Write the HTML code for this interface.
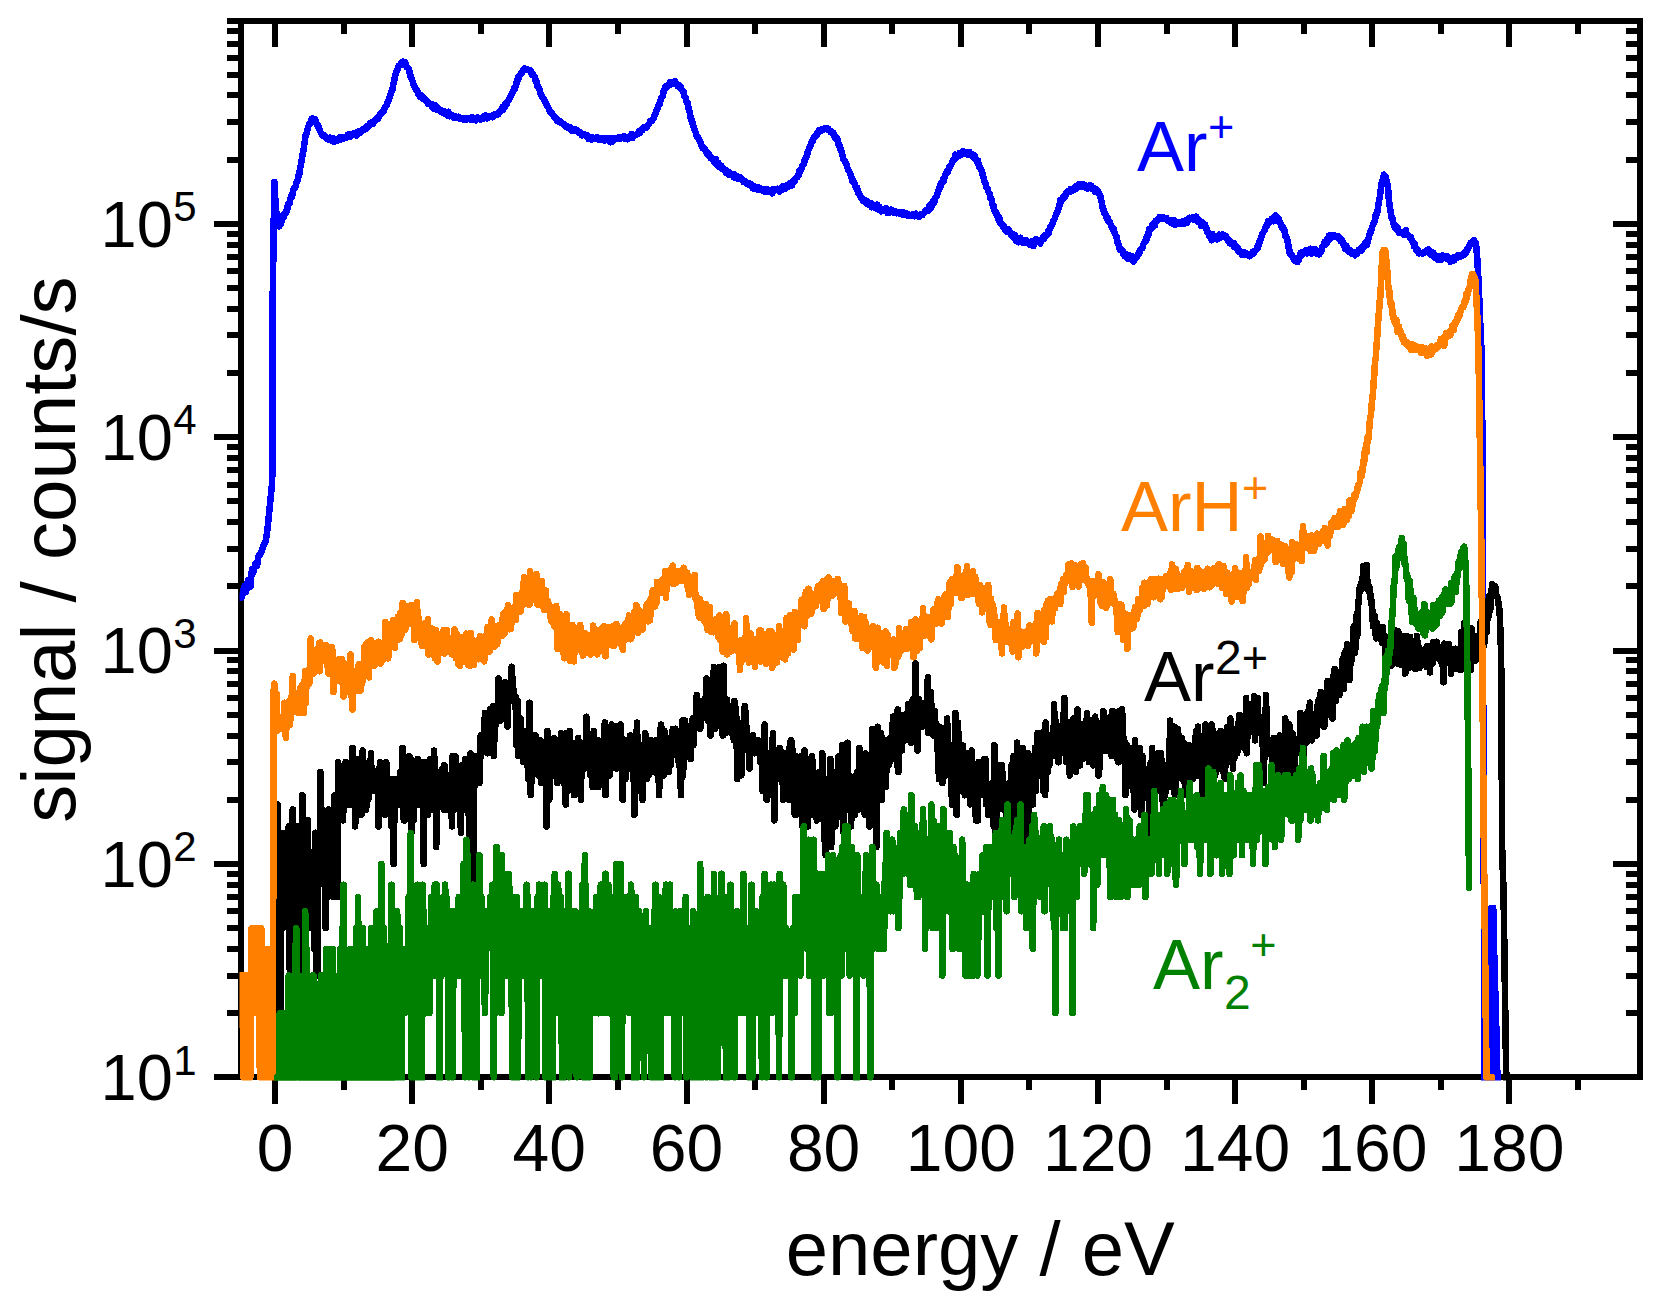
<!DOCTYPE html>
<html lang="en"><head><meta charset="utf-8"><title>Ion energy distributions</title>
<style>
html,body{margin:0;padding:0;background:#fff;}
body{width:1660px;height:1309px;overflow:hidden;}
svg{display:block;}
</style></head><body>
<svg width="1660" height="1309" viewBox="0 0 1660 1309">
<rect width="1660" height="1309" fill="#fff"/>
<path d="M275.0 1077.4V1103.6M275.0 21.0V47.2M343.6 1077.4V1090.4M343.6 21.0V34.0M412.2 1077.4V1103.6M412.2 21.0V47.2M480.7 1077.4V1090.4M480.7 21.0V34.0M549.3 1077.4V1103.6M549.3 21.0V47.2M617.9 1077.4V1090.4M617.9 21.0V34.0M686.5 1077.4V1103.6M686.5 21.0V47.2M755.1 1077.4V1090.4M755.1 21.0V34.0M823.6 1077.4V1103.6M823.6 21.0V47.2M892.2 1077.4V1090.4M892.2 21.0V34.0M960.8 1077.4V1103.6M960.8 21.0V47.2M1029.4 1077.4V1090.4M1029.4 21.0V34.0M1098.0 1077.4V1103.6M1098.0 21.0V47.2M1166.5 1077.4V1090.4M1166.5 21.0V34.0M1235.1 1077.4V1103.6M1235.1 21.0V47.2M1303.7 1077.4V1090.4M1303.7 21.0V34.0M1372.3 1077.4V1103.6M1372.3 21.0V47.2M1440.9 1077.4V1090.4M1440.9 21.0V34.0M1509.4 1077.4V1103.6M1509.4 21.0V47.2M1578.0 1077.4V1090.4M1578.0 21.0V34.0M241.0 1077.4H214.0M1640.2 1077.4H1613.2M241.0 1013.2H227.0M1640.2 1013.2H1626.2M241.0 975.6H227.0M1640.2 975.6H1626.2M241.0 948.9H227.0M1640.2 948.9H1626.2M241.0 928.2H227.0M1640.2 928.2H1626.2M241.0 911.3H227.0M1640.2 911.3H1626.2M241.0 897.1H227.0M1640.2 897.1H1626.2M241.0 884.7H227.0M1640.2 884.7H1626.2M241.0 873.8H227.0M1640.2 873.8H1626.2M241.0 864.0H214.0M1640.2 864.0H1613.2M241.0 799.8H227.0M1640.2 799.8H1626.2M241.0 762.2H227.0M1640.2 762.2H1626.2M241.0 735.5H227.0M1640.2 735.5H1626.2M241.0 714.8H227.0M1640.2 714.8H1626.2M241.0 697.9H227.0M1640.2 697.9H1626.2M241.0 683.7H227.0M1640.2 683.7H1626.2M241.0 671.3H227.0M1640.2 671.3H1626.2M241.0 660.4H227.0M1640.2 660.4H1626.2M241.0 650.6H214.0M1640.2 650.6H1613.2M241.0 586.4H227.0M1640.2 586.4H1626.2M241.0 548.8H227.0M1640.2 548.8H1626.2M241.0 522.1H227.0M1640.2 522.1H1626.2M241.0 501.4H227.0M1640.2 501.4H1626.2M241.0 484.5H227.0M1640.2 484.5H1626.2M241.0 470.3H227.0M1640.2 470.3H1626.2M241.0 457.9H227.0M1640.2 457.9H1626.2M241.0 447.0H227.0M1640.2 447.0H1626.2M241.0 437.2H214.0M1640.2 437.2H1613.2M241.0 373.0H227.0M1640.2 373.0H1626.2M241.0 335.4H227.0M1640.2 335.4H1626.2M241.0 308.7H227.0M1640.2 308.7H1626.2M241.0 288.0H227.0M1640.2 288.0H1626.2M241.0 271.1H227.0M1640.2 271.1H1626.2M241.0 256.9H227.0M1640.2 256.9H1626.2M241.0 244.5H227.0M1640.2 244.5H1626.2M241.0 233.6H227.0M1640.2 233.6H1626.2M241.0 223.8H214.0M1640.2 223.8H1613.2M241.0 159.6H227.0M1640.2 159.6H1626.2M241.0 122.0H227.0M1640.2 122.0H1626.2M241.0 95.3H227.0M1640.2 95.3H1626.2M241.0 74.6H227.0M1640.2 74.6H1626.2M241.0 57.7H227.0M1640.2 57.7H1626.2M241.0 43.5H227.0M1640.2 43.5H1626.2M241.0 31.1H227.0M1640.2 31.1H1626.2M241.0 21.0H227.0M1640.2 21.0H1626.2" stroke="#000" stroke-width="6.0" fill="none" shape-rendering="crispEdges"/>
<rect x="241.0" y="21.0" width="1399.2" height="1056.4" fill="none" stroke="#000" stroke-width="6.0" shape-rendering="crispEdges"/>
<svg x="239.5" y="18" width="1404" height="1062.5" viewBox="239.5 18 1404 1062.5" overflow="hidden">
<g fill="none" stroke-width="6.6" stroke-linejoin="round" stroke-linecap="round" shape-rendering="crispEdges">
<polyline stroke="#0000ff" points="240.7,598.0 242.0,597.0 244.4,586.0 246.0,592.0 248.0,580.0 250.3,587.0 252.0,569.0 253.5,572.0 255.3,564.0 257.0,566.0 258.5,556.0 260.4,554.0 262.0,550.0 263.8,545.0 265.8,541.0 267.5,529.0 268.8,516.0 270.5,499.0 272.2,482.0 272.7,300.0 274.3,182.0 275.6,205.0 277.0,218.0 279.1,226.4 279.8,223.4 280.5,224.5 281.2,222.7 281.9,218.0 282.5,218.4 283.2,215.1 283.9,217.3 284.6,213.9 285.3,212.2 286.0,213.3 286.7,210.5 287.3,209.0 288.0,204.5 288.7,204.4 289.4,204.0 290.1,199.4 290.8,197.3 291.5,195.1 292.1,196.8 292.8,192.8 293.5,188.8 294.2,188.4 294.9,188.5 295.6,186.6 296.3,183.0 296.9,182.0 297.6,180.0 298.3,177.6 299.0,172.7 299.7,173.0 300.4,166.7 301.1,163.9 301.7,160.2 302.4,155.9 303.1,152.0 303.8,148.3 304.5,142.8 305.2,138.2 305.9,134.3 306.5,133.3 307.2,130.8 307.9,127.7 308.6,125.7 309.3,123.9 310.0,124.4 310.7,121.4 311.3,119.3 312.0,119.7 312.7,118.7 313.4,120.2 314.1,119.1 314.8,119.2 315.5,120.5 316.1,123.3 316.8,123.5 317.5,125.7 318.2,125.0 318.9,128.3 319.6,129.2 320.3,131.6 320.9,132.9 321.6,133.9 322.3,135.4 323.0,134.8 323.7,135.1 324.4,135.5 325.1,137.0 325.7,137.6 326.4,137.5 327.1,138.8 327.8,139.3 328.5,139.0 329.2,139.0 329.9,137.8 330.5,140.1 331.2,140.3 331.9,140.2 332.6,139.7 333.3,138.1 334.0,141.7 334.7,140.8 335.4,140.6 336.0,138.9 336.7,139.3 337.4,140.1 338.1,140.4 338.8,138.7 339.5,137.3 340.2,137.4 340.8,139.4 341.5,137.9 342.2,138.3 342.9,138.8 343.6,137.3 344.3,136.9 345.0,137.3 345.6,137.2 346.3,136.7 347.0,137.4 347.7,134.6 348.4,136.7 349.1,136.5 349.8,136.0 350.4,136.5 351.1,134.1 351.8,135.6 352.5,133.9 353.2,133.9 353.9,133.4 354.6,134.9 355.2,134.0 355.9,133.1 356.6,135.6 357.3,132.1 358.0,132.5 358.7,131.3 359.4,131.1 360.0,132.7 360.7,131.9 361.4,131.3 362.1,130.4 362.8,129.5 363.5,130.1 364.2,129.9 364.8,128.2 365.5,128.3 366.2,127.1 366.9,128.4 367.6,126.1 368.3,126.3 369.0,126.3 369.6,124.0 370.3,124.8 371.0,122.6 371.7,123.4 372.4,122.4 373.1,123.7 373.8,122.5 374.4,121.6 375.1,119.9 375.8,119.4 376.5,118.9 377.2,118.1 377.9,118.9 378.6,117.8 379.2,116.1 379.9,114.9 380.6,113.4 381.3,114.0 382.0,112.0 382.7,112.6 383.4,110.3 384.0,110.5 384.7,107.7 385.4,107.1 386.1,106.0 386.8,105.3 387.5,102.3 388.2,101.7 388.8,99.1 389.5,98.1 390.2,95.4 390.9,93.8 391.6,91.4 392.3,90.3 393.0,85.6 393.6,82.8 394.3,80.1 395.0,76.8 395.7,74.2 396.4,71.8 397.1,70.1 397.8,68.8 398.4,66.1 399.1,65.5 399.8,65.1 400.5,64.1 401.2,62.9 401.9,64.5 402.6,61.6 403.2,61.7 403.9,63.4 404.6,62.0 405.3,63.1 406.0,64.5 406.7,67.4 407.4,67.6 408.0,67.9 408.7,69.2 409.4,71.5 410.1,74.2 410.8,77.8 411.5,78.4 412.2,80.5 412.8,81.6 413.5,84.2 414.2,85.7 414.9,87.2 415.6,88.2 416.3,90.2 417.0,90.1 417.6,92.1 418.3,94.3 419.0,95.3 419.7,94.5 420.4,97.2 421.1,96.3 421.8,95.7 422.4,98.8 423.1,99.1 423.8,99.2 424.5,98.5 425.2,99.4 425.9,100.3 426.6,101.7 427.2,102.1 427.9,103.6 428.6,102.4 429.3,103.5 430.0,104.1 430.7,104.4 431.4,105.4 432.0,106.9 432.7,104.4 433.4,105.8 434.1,108.6 434.8,107.0 435.5,105.5 436.2,108.1 436.8,108.9 437.5,110.0 438.2,110.1 438.9,108.6 439.6,110.2 440.3,111.3 441.0,110.4 441.6,110.7 442.3,111.7 443.0,113.0 443.7,112.4 444.4,111.0 445.1,114.2 445.8,113.5 446.4,112.3 447.1,112.0 447.8,115.5 448.5,111.8 449.2,114.1 449.9,116.2 450.6,114.2 451.3,115.5 451.9,114.9 452.6,116.0 453.3,117.5 454.0,117.0 454.7,116.4 455.4,116.4 456.1,116.5 456.7,118.0 457.4,117.8 458.1,118.1 458.8,116.9 459.5,118.5 460.2,118.2 460.9,117.9 461.5,118.3 462.2,118.1 462.9,119.4 463.6,119.5 464.3,118.5 465.0,119.7 465.7,118.8 466.3,119.4 467.0,118.7 467.7,118.7 468.4,118.7 469.1,119.1 469.8,119.3 470.5,118.7 471.1,117.6 471.8,119.7 472.5,117.6 473.2,119.3 473.9,119.9 474.6,119.1 475.3,119.0 475.9,120.3 476.6,119.6 477.3,117.5 478.0,118.5 478.7,118.6 479.4,118.9 480.1,119.3 480.7,119.6 481.4,119.4 482.1,117.7 482.8,118.4 483.5,116.7 484.2,118.3 484.9,117.9 485.5,115.4 486.2,118.1 486.9,118.4 487.6,117.5 488.3,117.7 489.0,116.0 489.7,116.6 490.3,116.3 491.0,117.1 491.7,116.7 492.4,117.2 493.1,115.5 493.8,116.1 494.5,115.0 495.1,114.1 495.8,114.1 496.5,113.8 497.2,113.5 497.9,114.5 498.6,112.7 499.3,112.1 499.9,111.2 500.6,110.8 501.3,110.7 502.0,110.4 502.7,106.9 503.4,109.2 504.1,107.8 504.7,104.5 505.4,106.1 506.1,103.7 506.8,104.5 507.5,101.5 508.2,100.8 508.9,99.4 509.5,98.2 510.2,96.5 510.9,96.3 511.6,94.2 512.3,93.3 513.0,91.1 513.7,90.0 514.3,87.7 515.0,88.6 515.7,85.6 516.4,82.4 517.1,82.5 517.8,77.8 518.5,78.9 519.1,76.4 519.8,75.3 520.5,74.3 521.2,72.9 521.9,72.7 522.6,71.8 523.3,69.4 523.9,69.7 524.6,68.2 525.3,70.1 526.0,69.5 526.7,69.0 527.4,69.1 528.1,70.0 528.7,70.2 529.4,70.4 530.1,70.3 530.8,70.6 531.5,73.6 532.2,74.9 532.9,74.0 533.5,75.5 534.2,76.1 534.9,77.7 535.6,80.6 536.3,80.7 537.0,84.3 537.7,86.8 538.3,86.5 539.0,88.5 539.7,89.7 540.4,93.6 541.1,94.2 541.8,96.7 542.5,97.5 543.1,97.9 543.8,99.3 544.5,100.2 545.2,102.1 545.9,104.1 546.6,104.1 547.3,106.3 547.9,106.9 548.6,108.2 549.3,110.0 550.0,112.2 550.7,112.1 551.4,112.9 552.1,113.7 552.7,114.3 553.4,115.7 554.1,116.8 554.8,116.8 555.5,117.6 556.2,119.7 556.9,119.3 557.5,120.8 558.2,120.0 558.9,122.0 559.6,121.2 560.3,121.1 561.0,122.9 561.7,123.3 562.4,123.1 563.0,123.7 563.7,124.0 564.4,125.1 565.1,125.5 565.8,126.4 566.5,127.1 567.2,127.5 567.8,126.4 568.5,127.1 569.2,128.1 569.9,127.0 570.6,129.7 571.3,128.8 572.0,131.1 572.6,130.3 573.3,130.3 574.0,129.8 574.7,129.1 575.4,130.9 576.1,130.7 576.8,130.8 577.4,130.5 578.1,131.5 578.8,132.4 579.5,132.9 580.2,132.3 580.9,132.7 581.6,135.1 582.2,135.3 582.9,133.9 583.6,134.8 584.3,134.5 585.0,134.5 585.7,135.1 586.4,134.9 587.0,136.8 587.7,135.7 588.4,138.7 589.1,137.4 589.8,137.6 590.5,138.8 591.2,138.3 591.8,139.5 592.5,137.5 593.2,138.7 593.9,138.6 594.6,138.3 595.3,139.0 596.0,138.0 596.6,138.0 597.3,137.1 598.0,138.3 598.7,139.3 599.4,139.8 600.1,139.0 600.8,139.6 601.4,138.5 602.1,139.3 602.8,139.1 603.5,138.8 604.2,138.9 604.9,140.6 605.6,139.4 606.2,138.1 606.9,138.2 607.6,138.8 608.3,139.9 609.0,138.6 609.7,138.3 610.4,142.3 611.0,141.2 611.7,139.5 612.4,141.9 613.1,138.0 613.8,138.6 614.5,139.3 615.2,138.4 615.8,139.1 616.5,138.0 617.2,138.6 617.9,138.0 618.6,138.8 619.3,137.1 620.0,137.4 620.6,138.8 621.3,137.1 622.0,137.4 622.7,137.5 623.4,136.7 624.1,136.4 624.8,138.5 625.4,138.2 626.1,138.5 626.8,137.2 627.5,139.3 628.2,137.4 628.9,137.8 629.6,136.5 630.2,135.8 630.9,135.7 631.6,134.0 632.3,138.2 633.0,137.2 633.7,136.0 634.4,135.6 635.0,135.1 635.7,135.0 636.4,134.3 637.1,134.2 637.8,133.1 638.5,133.8 639.2,131.0 639.8,132.8 640.5,130.8 641.2,129.5 641.9,129.2 642.6,130.0 643.3,128.0 644.0,127.3 644.6,127.3 645.3,127.9 646.0,127.9 646.7,126.3 647.4,126.3 648.1,124.8 648.8,123.9 649.4,123.3 650.1,121.3 650.8,120.7 651.5,120.5 652.2,120.8 652.9,119.2 653.6,118.5 654.2,116.1 654.9,114.2 655.6,113.1 656.3,110.6 657.0,110.0 657.7,107.9 658.4,106.3 659.0,104.4 659.7,103.8 660.4,100.6 661.1,98.4 661.8,97.2 662.5,96.4 663.2,94.0 663.8,90.8 664.5,89.5 665.2,86.7 665.9,87.8 666.6,86.5 667.3,87.0 668.0,85.2 668.6,84.3 669.3,83.5 670.0,82.4 670.7,82.1 671.4,84.2 672.1,82.7 672.8,82.3 673.4,82.8 674.1,82.0 674.8,81.3 675.5,83.9 676.2,82.9 676.9,83.7 677.6,85.9 678.3,84.9 678.9,84.8 679.6,86.9 680.3,86.2 681.0,89.2 681.7,89.6 682.4,90.3 683.1,92.5 683.7,92.1 684.4,96.0 685.1,97.4 685.8,98.4 686.5,101.7 687.2,102.9 687.9,103.2 688.5,109.0 689.2,110.6 689.9,112.9 690.6,117.9 691.3,118.6 692.0,122.5 692.7,123.0 693.3,125.9 694.0,128.0 694.7,129.7 695.4,131.7 696.1,133.5 696.8,137.0 697.5,137.8 698.1,137.6 698.8,139.4 699.5,140.3 700.2,142.4 700.9,143.2 701.6,146.5 702.3,146.8 702.9,148.4 703.6,147.7 704.3,148.0 705.0,150.1 705.7,150.8 706.4,152.6 707.1,152.3 707.7,154.9 708.4,155.8 709.1,154.1 709.8,155.5 710.5,158.0 711.2,157.3 711.9,158.3 712.5,159.1 713.2,159.6 713.9,162.0 714.6,162.6 715.3,161.9 716.0,159.1 716.7,165.0 717.3,165.6 718.0,162.5 718.7,165.7 719.4,164.5 720.1,167.7 720.8,167.8 721.5,166.1 722.1,167.0 722.8,169.4 723.5,169.4 724.2,169.2 724.9,170.7 725.6,170.7 726.3,173.0 726.9,170.5 727.6,171.9 728.3,172.9 729.0,174.5 729.7,172.4 730.4,173.9 731.1,173.7 731.7,174.1 732.4,174.2 733.1,175.3 733.8,177.4 734.5,174.5 735.2,175.9 735.9,177.5 736.5,175.8 737.2,177.6 737.9,178.6 738.6,177.8 739.3,178.0 740.0,179.0 740.7,177.4 741.3,178.6 742.0,180.0 742.7,179.9 743.4,182.1 744.1,182.1 744.8,181.3 745.5,181.6 746.1,183.0 746.8,183.8 747.5,184.3 748.2,184.3 748.9,183.3 749.6,184.9 750.3,185.4 750.9,185.2 751.6,184.6 752.3,186.0 753.0,188.4 753.7,187.2 754.4,186.4 755.1,187.0 755.7,187.5 756.4,189.0 757.1,188.6 757.8,189.5 758.5,187.2 759.2,188.4 759.9,189.6 760.5,188.7 761.2,188.7 761.9,190.0 762.6,190.0 763.3,190.8 764.0,191.0 764.7,191.5 765.3,189.0 766.0,191.8 766.7,191.4 767.4,189.2 768.1,189.7 768.8,189.7 769.5,190.4 770.1,191.7 770.8,190.2 771.5,190.1 772.2,193.5 772.9,191.3 773.6,189.0 774.3,190.9 774.9,190.6 775.6,189.8 776.3,190.1 777.0,189.8 777.7,188.9 778.4,189.5 779.1,190.4 779.7,191.4 780.4,189.7 781.1,189.6 781.8,188.2 782.5,186.7 783.2,187.4 783.9,189.1 784.5,186.0 785.2,188.9 785.9,188.4 786.6,186.6 787.3,187.3 788.0,184.5 788.7,186.1 789.3,183.4 790.0,183.7 790.7,184.2 791.4,184.7 792.1,185.3 792.8,181.3 793.5,182.2 794.2,181.4 794.8,180.8 795.5,178.8 796.2,177.8 796.9,177.6 797.6,176.6 798.3,174.8 799.0,174.6 799.6,170.5 800.3,171.6 801.0,169.3 801.7,168.1 802.4,166.0 803.1,164.8 803.8,163.9 804.4,160.4 805.1,160.4 805.8,157.2 806.5,157.3 807.2,154.3 807.9,151.3 808.6,149.8 809.2,148.1 809.9,146.8 810.6,145.2 811.3,142.1 812.0,142.3 812.7,141.3 813.4,138.8 814.0,137.2 814.7,137.0 815.4,135.9 816.1,135.5 816.8,135.3 817.5,132.5 818.2,132.0 818.8,130.6 819.5,131.6 820.2,131.0 820.9,129.7 821.6,130.5 822.3,130.4 823.0,129.5 823.6,128.7 824.3,128.6 825.0,128.1 825.7,128.2 826.4,129.0 827.1,128.7 827.8,129.6 828.4,128.8 829.1,130.5 829.8,130.7 830.5,132.0 831.2,131.4 831.9,133.0 832.6,132.4 833.2,132.7 833.9,134.5 834.6,137.0 835.3,136.8 836.0,137.6 836.7,139.7 837.4,139.0 838.0,143.0 838.7,145.5 839.4,145.0 840.1,148.6 840.8,148.9 841.5,151.8 842.2,154.0 842.8,156.8 843.5,159.2 844.2,159.9 844.9,160.8 845.6,163.4 846.3,163.8 847.0,166.9 847.6,168.1 848.3,170.6 849.0,170.6 849.7,172.6 850.4,174.3 851.1,176.8 851.8,177.8 852.4,181.5 853.1,179.9 853.8,182.6 854.5,183.6 855.2,185.2 855.9,187.4 856.6,187.8 857.2,187.8 857.9,192.9 858.6,193.1 859.3,194.0 860.0,196.2 860.7,197.3 861.4,197.6 862.0,198.9 862.7,199.5 863.4,201.0 864.1,199.6 864.8,199.9 865.5,202.7 866.2,203.5 866.8,202.5 867.5,201.4 868.2,203.4 868.9,204.4 869.6,203.7 870.3,204.7 871.0,203.0 871.6,207.3 872.3,205.8 873.0,204.7 873.7,205.8 874.4,206.0 875.1,207.6 875.8,205.9 876.4,206.3 877.1,204.7 877.8,209.6 878.5,209.7 879.2,206.6 879.9,210.5 880.6,208.9 881.2,211.3 881.9,209.8 882.6,209.0 883.3,210.5 884.0,210.1 884.7,210.6 885.4,211.2 886.0,208.3 886.7,210.5 887.4,212.8 888.1,210.7 888.8,212.8 889.5,211.9 890.2,210.2 890.8,209.8 891.5,211.6 892.2,210.1 892.9,210.6 893.6,212.5 894.3,211.6 895.0,211.8 895.6,211.6 896.3,213.2 897.0,212.6 897.7,212.5 898.4,213.3 899.1,213.6 899.8,212.8 900.4,212.3 901.1,213.5 901.8,212.6 902.5,214.5 903.2,212.2 903.9,215.0 904.6,213.7 905.3,213.6 905.9,213.1 906.6,214.8 907.3,214.7 908.0,216.0 908.7,214.9 909.4,214.7 910.1,214.9 910.7,215.2 911.4,215.7 912.1,215.4 912.8,214.0 913.5,215.8 914.2,216.1 914.9,214.5 915.5,214.3 916.2,213.8 916.9,215.6 917.6,216.4 918.3,216.4 919.0,215.8 919.7,216.6 920.3,214.8 921.0,214.3 921.7,215.1 922.4,215.1 923.1,213.9 923.8,213.5 924.5,212.7 925.1,211.0 925.8,210.7 926.5,210.1 927.2,210.9 927.9,210.1 928.6,210.4 929.3,205.7 929.9,207.4 930.6,208.5 931.3,204.8 932.0,205.9 932.7,202.0 933.4,202.3 934.1,203.0 934.7,199.2 935.4,198.0 936.1,196.8 936.8,196.6 937.5,193.3 938.2,191.8 938.9,189.4 939.5,187.5 940.2,187.4 940.9,183.1 941.6,182.1 942.3,182.7 943.0,179.2 943.7,181.4 944.3,178.0 945.0,175.2 945.7,174.4 946.4,172.4 947.1,171.1 947.8,172.2 948.5,169.3 949.1,166.7 949.8,167.2 950.5,165.7 951.2,165.0 951.9,162.7 952.6,161.8 953.3,160.1 953.9,160.2 954.6,158.1 955.3,154.6 956.0,157.1 956.7,157.6 957.4,155.9 958.1,156.1 958.7,156.2 959.4,153.2 960.1,154.9 960.8,154.8 961.5,152.8 962.2,152.6 962.9,151.1 963.5,153.8 964.2,153.9 964.9,153.5 965.6,152.9 966.3,151.9 967.0,151.9 967.7,154.2 968.3,154.8 969.0,152.5 969.7,152.3 970.4,155.1 971.1,154.3 971.8,154.3 972.5,156.6 973.1,157.4 973.8,155.3 974.5,155.8 975.2,157.7 975.9,159.0 976.6,160.5 977.3,162.9 977.9,160.3 978.6,165.3 979.3,167.5 980.0,166.8 980.7,169.2 981.4,170.6 982.1,171.6 982.7,175.0 983.4,177.5 984.1,180.0 984.8,182.1 985.5,183.1 986.2,187.3 986.9,187.4 987.5,188.6 988.2,191.4 988.9,192.7 989.6,193.8 990.3,198.3 991.0,198.4 991.7,200.1 992.3,203.6 993.0,207.1 993.7,206.1 994.4,210.9 995.1,211.5 995.8,212.0 996.5,215.3 997.1,214.2 997.8,217.9 998.5,219.8 999.2,217.7 999.9,222.8 1000.6,223.4 1001.3,223.4 1001.9,224.8 1002.6,226.1 1003.3,225.0 1004.0,227.4 1004.7,228.0 1005.4,230.1 1006.1,231.3 1006.7,229.6 1007.4,229.8 1008.1,229.3 1008.8,230.1 1009.5,231.0 1010.2,233.0 1010.9,232.7 1011.5,235.4 1012.2,236.5 1012.9,234.0 1013.6,235.8 1014.3,235.5 1015.0,235.2 1015.7,240.5 1016.3,240.0 1017.0,239.0 1017.7,240.0 1018.4,242.2 1019.1,240.4 1019.8,241.6 1020.5,237.8 1021.2,239.9 1021.8,239.4 1022.5,239.8 1023.2,243.0 1023.9,240.6 1024.6,242.3 1025.3,241.4 1026.0,242.1 1026.6,240.3 1027.3,243.0 1028.0,242.4 1028.7,243.4 1029.4,243.2 1030.1,244.9 1030.8,243.0 1031.4,241.7 1032.1,244.5 1032.8,244.3 1033.5,246.1 1034.2,240.4 1034.9,240.1 1035.6,242.1 1036.2,238.9 1036.9,239.9 1037.6,241.5 1038.3,242.0 1039.0,241.8 1039.7,240.0 1040.4,243.6 1041.0,240.0 1041.7,240.3 1042.4,240.0 1043.1,237.1 1043.8,239.1 1044.5,235.9 1045.2,235.0 1045.8,236.4 1046.5,235.4 1047.2,234.6 1047.9,231.7 1048.6,233.5 1049.3,229.7 1050.0,228.0 1050.6,226.6 1051.3,226.6 1052.0,223.9 1052.7,223.3 1053.4,221.0 1054.1,220.0 1054.8,218.4 1055.4,216.2 1056.1,214.8 1056.8,213.0 1057.5,211.6 1058.2,209.2 1058.9,207.1 1059.6,205.3 1060.2,199.8 1060.9,202.4 1061.6,200.2 1062.3,200.0 1063.0,197.0 1063.7,196.5 1064.4,195.3 1065.0,196.7 1065.7,194.6 1066.4,192.5 1067.1,192.4 1067.8,192.6 1068.5,191.1 1069.2,192.1 1069.8,192.2 1070.5,189.2 1071.2,191.1 1071.9,190.2 1072.6,190.5 1073.3,188.9 1074.0,189.7 1074.6,187.5 1075.3,186.4 1076.0,188.9 1076.7,188.6 1077.4,186.8 1078.1,184.9 1078.8,184.2 1079.4,184.3 1080.1,185.2 1080.8,187.1 1081.5,185.2 1082.2,184.4 1082.9,186.6 1083.6,186.6 1084.2,184.6 1084.9,184.9 1085.6,187.4 1086.3,188.2 1087.0,186.8 1087.7,188.6 1088.4,186.9 1089.0,186.7 1089.7,185.7 1090.4,186.7 1091.1,185.5 1091.8,187.0 1092.5,188.8 1093.2,187.8 1093.8,189.4 1094.5,189.3 1095.2,191.8 1095.9,189.2 1096.6,189.8 1097.3,192.2 1098.0,192.4 1098.6,192.1 1099.3,193.8 1100.0,196.8 1100.7,196.5 1101.4,201.3 1102.1,204.3 1102.8,208.3 1103.4,209.0 1104.1,213.2 1104.8,213.0 1105.5,214.7 1106.2,215.5 1106.9,219.0 1107.6,217.9 1108.2,220.8 1108.9,221.2 1109.6,222.0 1110.3,223.5 1111.0,225.2 1111.7,226.8 1112.4,228.9 1113.0,228.7 1113.7,229.0 1114.4,232.8 1115.1,234.2 1115.8,235.7 1116.5,236.7 1117.2,240.6 1117.8,243.8 1118.5,244.5 1119.2,247.7 1119.9,249.6 1120.6,249.2 1121.3,249.9 1122.0,249.6 1122.6,250.5 1123.3,254.2 1124.0,254.1 1124.7,256.2 1125.4,253.9 1126.1,256.6 1126.8,257.2 1127.4,258.4 1128.1,255.6 1128.8,258.4 1129.5,255.2 1130.2,257.8 1130.9,257.2 1131.6,258.9 1132.2,257.7 1132.9,256.5 1133.6,261.5 1134.3,259.9 1135.0,257.9 1135.7,258.4 1136.4,257.7 1137.1,256.6 1137.7,254.4 1138.4,253.3 1139.1,253.9 1139.8,250.2 1140.5,249.5 1141.2,248.8 1141.9,248.4 1142.5,247.9 1143.2,244.5 1143.9,243.3 1144.6,242.3 1145.3,241.1 1146.0,238.6 1146.7,239.8 1147.3,237.2 1148.0,233.6 1148.7,234.4 1149.4,228.9 1150.1,230.1 1150.8,228.4 1151.5,228.4 1152.1,225.1 1152.8,224.4 1153.5,226.0 1154.2,222.4 1154.9,225.6 1155.6,221.0 1156.3,220.4 1156.9,220.4 1157.6,220.6 1158.3,219.5 1159.0,218.9 1159.7,216.9 1160.4,217.3 1161.1,219.0 1161.7,217.9 1162.4,218.5 1163.1,217.3 1163.8,218.7 1164.5,218.8 1165.2,218.5 1165.9,218.0 1166.5,218.1 1167.2,219.6 1167.9,221.0 1168.6,221.2 1169.3,221.6 1170.0,219.9 1170.7,220.5 1171.3,223.2 1172.0,221.7 1172.7,221.9 1173.4,224.0 1174.1,220.1 1174.8,224.8 1175.5,221.3 1176.1,222.7 1176.8,222.0 1177.5,223.9 1178.2,223.6 1178.9,222.6 1179.6,222.4 1180.3,224.1 1180.9,223.0 1181.6,222.4 1182.3,221.6 1183.0,222.6 1183.7,222.2 1184.4,223.7 1185.1,221.1 1185.7,220.6 1186.4,219.8 1187.1,222.8 1187.8,219.7 1188.5,218.3 1189.2,217.9 1189.9,219.6 1190.5,218.1 1191.2,219.1 1191.9,217.8 1192.6,217.5 1193.3,217.7 1194.0,220.1 1194.7,218.2 1195.3,218.4 1196.0,216.6 1196.7,219.5 1197.4,221.1 1198.1,222.0 1198.8,219.4 1199.5,220.4 1200.1,223.0 1200.8,221.3 1201.5,226.1 1202.2,223.8 1202.9,223.5 1203.6,225.4 1204.3,225.2 1204.9,224.4 1205.6,228.1 1206.3,228.1 1207.0,232.0 1207.7,231.4 1208.4,233.7 1209.1,235.8 1209.7,234.0 1210.4,236.4 1211.1,235.9 1211.8,240.3 1212.5,233.9 1213.2,239.2 1213.9,238.0 1214.5,238.0 1215.2,237.7 1215.9,238.9 1216.6,237.2 1217.3,239.3 1218.0,238.5 1218.7,237.9 1219.3,234.6 1220.0,236.1 1220.7,237.5 1221.4,236.3 1222.1,236.2 1222.8,234.3 1223.5,236.5 1224.1,234.9 1224.8,236.1 1225.5,237.0 1226.2,236.5 1226.9,238.7 1227.6,238.8 1228.3,241.1 1228.9,239.8 1229.6,243.4 1230.3,242.0 1231.0,242.1 1231.7,244.2 1232.4,243.2 1233.1,245.0 1233.7,242.9 1234.4,247.0 1235.1,246.7 1235.8,246.4 1236.5,248.3 1237.2,248.3 1237.9,247.5 1238.5,251.6 1239.2,251.3 1239.9,251.8 1240.6,252.1 1241.3,251.8 1242.0,254.7 1242.7,253.3 1243.3,254.5 1244.0,252.0 1244.7,253.7 1245.4,253.7 1246.1,253.3 1246.8,255.1 1247.5,254.5 1248.2,255.4 1248.8,254.8 1249.5,256.2 1250.2,255.7 1250.9,254.9 1251.6,253.7 1252.3,252.4 1253.0,253.3 1253.6,253.7 1254.3,251.0 1255.0,250.8 1255.7,250.1 1256.4,249.4 1257.1,246.9 1257.8,248.6 1258.4,245.4 1259.1,241.6 1259.8,242.0 1260.5,239.8 1261.2,236.8 1261.9,236.0 1262.6,233.3 1263.2,232.6 1263.9,231.1 1264.6,230.7 1265.3,227.9 1266.0,226.2 1266.7,226.1 1267.4,225.1 1268.0,221.2 1268.7,222.0 1269.4,222.1 1270.1,221.8 1270.8,221.3 1271.5,219.2 1272.2,219.2 1272.8,218.6 1273.5,221.2 1274.2,219.6 1274.9,219.5 1275.6,215.6 1276.3,218.3 1277.0,220.0 1277.6,221.0 1278.3,218.3 1279.0,220.1 1279.7,221.6 1280.4,222.7 1281.1,226.0 1281.8,226.4 1282.4,228.5 1283.1,227.4 1283.8,228.5 1284.5,230.6 1285.2,235.9 1285.9,236.1 1286.6,237.4 1287.2,239.8 1287.9,242.5 1288.6,247.2 1289.3,252.0 1290.0,251.3 1290.7,254.8 1291.4,254.6 1292.0,256.2 1292.7,256.9 1293.4,258.3 1294.1,260.5 1294.8,259.7 1295.5,258.1 1296.2,258.9 1296.8,260.0 1297.5,262.1 1298.2,258.8 1298.9,259.8 1299.6,256.7 1300.3,253.3 1301.0,255.8 1301.6,254.5 1302.3,252.3 1303.0,253.8 1303.7,253.5 1304.4,252.9 1305.1,251.6 1305.8,250.3 1306.4,250.8 1307.1,253.3 1307.8,251.2 1308.5,250.9 1309.2,250.0 1309.9,250.0 1310.6,248.9 1311.2,253.0 1311.9,253.6 1312.6,251.1 1313.3,252.7 1314.0,251.2 1314.7,249.0 1315.4,250.3 1316.0,252.7 1316.7,253.8 1317.4,252.2 1318.1,251.8 1318.8,254.3 1319.5,254.0 1320.2,252.6 1320.8,251.2 1321.5,251.0 1322.2,247.2 1322.9,246.3 1323.6,245.2 1324.3,242.3 1325.0,243.6 1325.6,244.5 1326.3,244.1 1327.0,238.9 1327.7,239.7 1328.4,239.8 1329.1,235.6 1329.8,239.4 1330.4,238.1 1331.1,235.4 1331.8,236.3 1332.5,235.1 1333.2,235.8 1333.9,235.3 1334.6,236.7 1335.2,236.9 1335.9,235.9 1336.6,237.1 1337.3,237.7 1338.0,237.8 1338.7,236.5 1339.4,238.3 1340.0,238.5 1340.7,241.5 1341.4,241.4 1342.1,239.9 1342.8,242.4 1343.5,244.6 1344.2,244.8 1344.8,247.4 1345.5,249.2 1346.2,245.5 1346.9,249.1 1347.6,248.0 1348.3,251.4 1349.0,250.0 1349.6,251.0 1350.3,250.4 1351.0,253.3 1351.7,253.4 1352.4,252.7 1353.1,253.8 1353.8,253.1 1354.4,254.4 1355.1,255.3 1355.8,252.2 1356.5,252.5 1357.2,253.8 1357.9,251.8 1358.6,250.0 1359.2,250.1 1359.9,249.0 1360.6,249.4 1361.3,250.8 1362.0,247.4 1362.7,248.3 1363.4,246.0 1364.1,247.2 1364.7,244.1 1365.4,244.7 1366.1,242.1 1366.8,245.0 1367.5,242.0 1368.2,238.7 1368.9,237.4 1369.5,234.4 1370.2,233.8 1370.9,230.0 1371.6,229.9 1372.3,226.3 1373.0,225.3 1373.7,223.2 1374.3,221.8 1375.0,220.3 1375.7,214.5 1376.4,215.0 1377.1,213.0 1377.8,209.8 1378.5,203.9 1379.1,200.2 1379.8,198.0 1380.5,191.4 1381.2,186.9 1381.9,181.1 1382.6,180.3 1383.3,177.8 1383.9,174.7 1384.6,177.2 1385.3,176.1 1386.0,180.4 1386.7,180.2 1387.4,184.1 1388.1,187.8 1388.7,197.6 1389.4,203.9 1390.1,208.0 1390.8,213.1 1391.5,217.6 1392.2,217.7 1392.9,221.4 1393.5,223.3 1394.2,225.6 1394.9,228.0 1395.6,226.1 1396.3,228.8 1397.0,226.7 1397.7,228.1 1398.3,230.9 1399.0,232.6 1399.7,231.5 1400.4,231.7 1401.1,232.6 1401.8,231.9 1402.5,232.2 1403.1,234.5 1403.8,233.2 1404.5,234.9 1405.2,232.5 1405.9,230.0 1406.6,235.0 1407.3,235.2 1407.9,235.5 1408.6,235.9 1409.3,236.2 1410.0,238.3 1410.7,236.9 1411.4,239.8 1412.1,240.6 1412.7,242.1 1413.4,243.0 1414.1,246.6 1414.8,244.2 1415.5,247.4 1416.2,249.7 1416.9,251.3 1417.5,250.2 1418.2,250.0 1418.9,253.5 1419.6,252.6 1420.3,252.7 1421.0,253.2 1421.7,253.4 1422.3,253.5 1423.0,252.6 1423.7,252.9 1424.4,252.1 1425.1,251.7 1425.8,251.3 1426.5,251.2 1427.1,250.0 1427.8,250.7 1428.5,249.4 1429.2,252.6 1429.9,253.3 1430.6,254.6 1431.3,252.9 1431.9,254.2 1432.6,255.3 1433.3,252.6 1434.0,257.0 1434.7,256.2 1435.4,258.0 1436.1,256.7 1436.7,256.1 1437.4,256.3 1438.1,259.9 1438.8,259.2 1439.5,258.6 1440.2,256.4 1440.9,259.8 1441.5,256.6 1442.2,256.9 1442.9,255.5 1443.6,257.4 1444.3,256.1 1445.0,256.2 1445.7,257.6 1446.3,256.2 1447.0,256.3 1447.7,259.2 1448.4,258.7 1449.1,258.3 1449.8,260.0 1450.5,261.9 1451.1,257.8 1451.8,259.5 1452.5,260.4 1453.2,259.9 1453.9,260.6 1454.6,257.1 1455.3,258.7 1455.9,258.3 1456.6,257.9 1457.3,257.5 1458.0,255.3 1458.7,257.3 1459.4,256.2 1460.1,255.2 1460.7,256.5 1461.4,255.1 1462.1,255.8 1462.8,254.8 1463.5,253.5 1464.2,252.6 1464.9,254.3 1465.5,251.8 1466.2,252.6 1466.9,249.5 1467.6,248.9 1468.3,248.6 1469.0,246.6 1469.7,244.5 1470.3,243.2 1471.0,243.9 1471.7,244.2 1472.4,241.9 1473.1,243.2 1473.8,240.3 1476.0,243.0 1477.5,262.0 1479.0,292.0 1480.5,330.0 1482.0,361.0 1483.2,700.0 1484.2,1000.0 1485.0,1400.0 1488.8,1400.0 1491.3,908.0 1493.2,908.0 1494.6,972.0 1496.0,1017.0 1497.4,1077.5 1498.6,1400.0"/>
<polyline stroke="#000" points="277.7,804.5 278.4,855.2 279.1,911.3 279.8,1013.2 280.5,1013.2 281.2,855.2 281.9,873.8 282.5,928.2 283.2,832.8 283.9,847.1 284.6,884.7 285.3,847.1 286.0,855.2 286.7,832.8 287.3,897.1 288.0,873.8 288.7,826.4 289.4,911.3 290.1,1013.2 290.8,948.9 291.5,855.2 292.1,928.2 292.8,809.5 293.5,948.9 294.2,873.8 294.9,832.8 295.6,873.8 296.3,864.0 296.9,826.4 297.6,855.2 298.3,839.7 299.0,897.1 299.7,1013.2 300.4,832.8 301.1,975.6 301.7,873.8 302.4,795.2 303.1,855.2 303.8,839.7 304.5,911.3 305.2,855.2 305.9,832.8 306.5,897.1 307.2,911.3 307.9,820.4 308.6,884.7 309.3,873.8 310.0,928.2 310.7,855.2 311.3,873.8 312.0,855.2 312.7,855.2 313.4,864.0 314.1,948.9 314.8,884.7 315.5,832.8 316.1,975.6 316.8,864.0 317.5,975.6 318.2,873.8 318.9,884.7 319.6,873.8 320.3,771.9 320.9,814.8 321.6,839.7 322.3,809.5 323.0,855.2 323.7,839.7 324.4,864.0 325.1,826.4 325.7,928.2 326.4,820.4 327.1,897.1 327.8,847.1 328.5,809.5 329.2,839.7 329.9,814.8 330.5,864.0 331.2,814.8 331.9,884.7 332.6,864.0 333.3,897.1 334.0,855.2 334.7,795.2 335.4,832.8 336.0,839.7 336.7,809.5 337.4,897.1 338.1,762.2 338.8,779.1 339.5,820.4 340.2,795.2 340.8,771.9 341.5,786.8 342.2,775.4 342.9,820.4 343.6,804.5 344.3,765.3 345.0,790.9 345.6,762.2 346.3,795.2 347.0,786.8 347.7,795.2 348.4,782.9 349.1,804.5 349.8,775.4 350.4,804.5 351.1,804.5 351.8,804.5 352.5,747.9 353.2,759.1 353.9,786.8 354.6,762.2 355.2,826.4 355.9,762.2 356.6,765.3 357.3,790.9 358.0,759.1 358.7,786.8 359.4,765.3 360.0,795.2 360.7,782.9 361.4,814.8 362.1,771.9 362.8,750.6 363.5,795.2 364.2,762.2 364.8,786.8 365.5,809.5 366.2,809.5 366.9,771.9 367.6,779.1 368.3,799.8 369.0,775.4 369.6,782.9 370.3,771.9 371.0,753.3 371.7,790.9 372.4,768.6 373.1,775.4 373.8,779.1 374.4,790.9 375.1,786.8 375.8,790.9 376.5,786.8 377.2,786.8 377.9,786.8 378.6,826.4 379.2,790.9 379.9,762.2 380.6,790.9 381.3,799.8 382.0,782.9 382.7,795.2 383.4,782.9 384.0,795.2 384.7,814.8 385.4,814.8 386.1,762.2 386.8,765.3 387.5,782.9 388.2,790.9 388.8,790.9 389.5,782.9 390.2,799.8 390.9,795.2 391.6,826.4 392.3,795.2 393.0,779.1 393.6,864.0 394.3,799.8 395.0,820.4 395.7,779.1 396.4,804.5 397.1,782.9 397.8,795.2 398.4,804.5 399.1,782.9 399.8,790.9 400.5,771.9 401.2,782.9 401.9,779.1 402.6,747.9 403.2,814.8 403.9,820.4 404.6,820.4 405.3,814.8 406.0,804.5 406.7,782.9 407.4,768.6 408.0,814.8 408.7,799.8 409.4,756.2 410.1,790.9 410.8,759.1 411.5,832.8 412.2,804.5 412.8,809.5 413.5,820.4 414.2,771.9 414.9,790.9 415.6,771.9 416.3,799.8 417.0,775.4 417.6,759.1 418.3,804.5 419.0,762.2 419.7,771.9 420.4,762.2 421.1,768.6 421.8,762.2 422.4,762.2 423.1,809.5 423.8,864.0 424.5,762.2 425.2,795.2 425.9,775.4 426.6,804.5 427.2,782.9 427.9,814.8 428.6,804.5 429.3,799.8 430.0,759.1 430.7,771.9 431.4,809.5 432.0,765.3 432.7,804.5 433.4,786.8 434.1,750.6 434.8,786.8 435.5,779.1 436.2,847.1 436.8,799.8 437.5,775.4 438.2,782.9 438.9,790.9 439.6,790.9 440.3,771.9 441.0,795.2 441.6,775.4 442.3,768.6 443.0,775.4 443.7,809.5 444.4,765.3 445.1,779.1 445.8,790.9 446.4,809.5 447.1,782.9 447.8,786.8 448.5,786.8 449.2,775.4 449.9,804.5 450.6,786.8 451.3,775.4 451.9,826.4 452.6,756.2 453.3,790.9 454.0,809.5 454.7,768.6 455.4,756.2 456.1,790.9 456.7,782.9 457.4,799.8 458.1,771.9 458.8,799.8 459.5,782.9 460.2,790.9 460.9,832.8 461.5,795.2 462.2,765.3 462.9,795.2 463.6,795.2 464.3,809.5 465.0,759.1 465.7,768.6 466.3,779.1 467.0,790.9 467.7,786.8 468.4,759.1 469.1,855.2 469.8,809.5 470.5,753.3 471.1,820.4 471.8,820.4 472.5,768.6 473.2,884.7 473.9,756.2 474.6,786.8 475.3,765.3 475.9,779.1 476.6,771.9 477.3,768.6 478.0,756.2 478.7,762.2 479.4,782.9 480.1,765.3 480.7,735.5 481.4,750.6 482.1,745.3 482.8,740.3 483.5,735.5 484.2,747.9 484.9,713.0 485.5,742.7 486.2,740.3 486.9,731.0 487.6,753.3 488.3,726.7 489.0,722.6 489.7,726.7 490.3,709.4 491.0,735.5 491.7,716.7 492.4,726.7 493.1,706.0 493.8,756.2 494.5,731.0 495.1,731.0 495.8,707.7 496.5,707.7 497.2,718.6 497.9,714.8 498.6,678.5 499.3,716.7 499.9,696.4 500.6,720.6 501.3,702.7 502.0,711.2 502.7,714.8 503.4,692.0 504.1,713.0 504.7,682.3 505.4,690.5 506.1,690.5 506.8,704.3 507.5,726.7 508.2,687.7 508.9,694.9 509.5,694.9 510.2,692.0 510.9,694.9 511.6,666.8 512.3,677.3 513.0,683.7 513.7,696.4 514.3,694.9 515.0,707.7 515.7,696.4 516.4,745.3 517.1,733.2 517.8,701.1 518.5,756.2 519.1,737.9 519.8,756.2 520.5,718.6 521.2,742.7 521.9,753.3 522.6,742.7 523.3,762.2 523.9,731.0 524.6,742.7 525.3,740.3 526.0,731.0 526.7,750.6 527.4,750.6 528.1,779.1 528.7,735.5 529.4,702.7 530.1,747.9 530.8,795.2 531.5,775.4 532.2,768.6 532.9,765.3 533.5,737.9 534.2,735.5 534.9,747.9 535.6,735.5 536.3,768.6 537.0,756.2 537.7,759.1 538.3,775.4 539.0,747.9 539.7,756.2 540.4,740.3 541.1,782.9 541.8,753.3 542.5,765.3 543.1,782.9 543.8,756.2 544.5,759.1 545.2,759.1 545.9,786.8 546.6,826.4 547.3,731.0 547.9,765.3 548.6,782.9 549.3,799.8 550.0,753.3 550.7,759.1 551.4,759.1 552.1,771.9 552.7,775.4 553.4,742.7 554.1,737.9 554.8,762.2 555.5,759.1 556.2,759.1 556.9,750.6 557.5,782.9 558.2,745.3 558.9,740.3 559.6,771.9 560.3,768.6 561.0,733.2 561.7,768.6 562.4,750.6 563.0,759.1 563.7,782.9 564.4,762.2 565.1,790.9 565.8,804.5 566.5,733.2 567.2,753.3 567.8,790.9 568.5,753.3 569.2,759.1 569.9,731.0 570.6,762.2 571.3,765.3 572.0,742.7 572.6,782.9 573.3,753.3 574.0,795.2 574.7,750.6 575.4,775.4 576.1,745.3 576.8,753.3 577.4,782.9 578.1,737.9 578.8,745.3 579.5,765.3 580.2,779.1 580.9,799.8 581.6,753.3 582.2,745.3 582.9,762.2 583.6,747.9 584.3,768.6 585.0,742.7 585.7,765.3 586.4,716.7 587.0,747.9 587.7,750.6 588.4,733.2 589.1,765.3 589.8,756.2 590.5,775.4 591.2,735.5 591.8,750.6 592.5,786.8 593.2,753.3 593.9,731.0 594.6,750.6 595.3,765.3 596.0,771.9 596.6,786.8 597.3,779.1 598.0,740.3 598.7,786.8 599.4,782.9 600.1,759.1 600.8,765.3 601.4,750.6 602.1,756.2 602.8,762.2 603.5,765.3 604.2,728.8 604.9,722.6 605.6,795.2 606.2,759.1 606.9,753.3 607.6,753.3 608.3,775.4 609.0,747.9 609.7,775.4 610.4,768.6 611.0,737.9 611.7,724.6 612.4,745.3 613.1,765.3 613.8,759.1 614.5,740.3 615.2,747.9 615.8,726.7 616.5,768.6 617.2,737.9 617.9,745.3 618.6,750.6 619.3,756.2 620.0,753.3 620.6,724.6 621.3,759.1 622.0,737.9 622.7,799.8 623.4,771.9 624.1,762.2 624.8,750.6 625.4,779.1 626.1,740.3 626.8,756.2 627.5,745.3 628.2,742.7 628.9,745.3 629.6,768.6 630.2,735.5 630.9,756.2 631.6,750.6 632.3,750.6 633.0,756.2 633.7,775.4 634.4,814.8 635.0,740.3 635.7,753.3 636.4,737.9 637.1,722.6 637.8,790.9 638.5,768.6 639.2,762.2 639.8,768.6 640.5,745.3 641.2,775.4 641.9,771.9 642.6,799.8 643.3,779.1 644.0,756.2 644.6,779.1 645.3,733.2 646.0,753.3 646.7,779.1 647.4,750.6 648.1,765.3 648.8,775.4 649.4,771.9 650.1,750.6 650.8,753.3 651.5,740.3 652.2,747.9 652.9,753.3 653.6,771.9 654.2,759.1 654.9,750.6 655.6,740.3 656.3,765.3 657.0,753.3 657.7,775.4 658.4,756.2 659.0,795.2 659.7,775.4 660.4,731.0 661.1,724.6 661.8,735.5 662.5,735.5 663.2,747.9 663.8,775.4 664.5,731.0 665.2,737.9 665.9,737.9 666.6,756.2 667.3,745.3 668.0,759.1 668.6,771.9 669.3,737.9 670.0,753.3 670.7,765.3 671.4,740.3 672.1,742.7 672.8,728.8 673.4,750.6 674.1,740.3 674.8,731.0 675.5,728.8 676.2,737.9 676.9,742.7 677.6,756.2 678.3,750.6 678.9,765.3 679.6,737.9 680.3,771.9 681.0,795.2 681.7,745.3 682.4,720.6 683.1,775.4 683.7,745.3 684.4,742.7 685.1,720.6 685.8,740.3 686.5,753.3 687.2,745.3 687.9,747.9 688.5,731.0 689.2,753.3 689.9,737.9 690.6,759.1 691.3,731.0 692.0,720.6 692.7,718.6 693.3,745.3 694.0,724.6 694.7,726.7 695.4,718.6 696.1,722.6 696.8,694.9 697.5,716.7 698.1,726.7 698.8,702.7 699.5,713.0 700.2,728.8 700.9,716.7 701.6,714.8 702.3,701.1 702.9,709.4 703.6,709.4 704.3,706.0 705.0,714.8 705.7,699.5 706.4,678.5 707.1,718.6 707.7,720.6 708.4,686.3 709.1,704.3 709.8,704.3 710.5,735.5 711.2,706.0 711.9,690.5 712.5,694.9 713.2,696.4 713.9,666.8 714.6,694.9 715.3,728.8 716.0,713.0 716.7,682.3 717.3,706.0 718.0,706.0 718.7,685.0 719.4,692.0 720.1,666.8 720.8,670.1 721.5,692.0 722.1,714.8 722.8,735.5 723.5,665.7 724.2,709.4 724.9,724.6 725.6,733.2 726.3,706.0 726.9,699.5 727.6,707.7 728.3,726.7 729.0,720.6 729.7,709.4 730.4,716.7 731.1,709.4 731.7,733.2 732.4,731.0 733.1,720.6 733.8,740.3 734.5,701.1 735.2,722.6 735.9,707.7 736.5,724.6 737.2,779.1 737.9,722.6 738.6,726.7 739.3,724.6 740.0,740.3 740.7,745.3 741.3,775.4 742.0,724.6 742.7,745.3 743.4,750.6 744.1,737.9 744.8,706.0 745.5,713.0 746.1,722.6 746.8,735.5 747.5,747.9 748.2,740.3 748.9,742.7 749.6,768.6 750.3,742.7 750.9,750.6 751.6,753.3 752.3,745.3 753.0,735.5 753.7,742.7 754.4,753.3 755.1,740.3 755.7,747.9 756.4,750.6 757.1,742.7 757.8,747.9 758.5,740.3 759.2,753.3 759.9,747.9 760.5,762.2 761.2,756.2 761.9,745.3 762.6,790.9 763.3,768.6 764.0,771.9 764.7,724.6 765.3,771.9 766.0,768.6 766.7,799.8 767.4,762.2 768.1,753.3 768.8,779.1 769.5,779.1 770.1,765.3 770.8,795.2 771.5,756.2 772.2,765.3 772.9,733.2 773.6,771.9 774.3,820.4 774.9,790.9 775.6,759.1 776.3,768.6 777.0,779.1 777.7,765.3 778.4,765.3 779.1,768.6 779.7,747.9 780.4,750.6 781.1,759.1 781.8,756.2 782.5,771.9 783.2,799.8 783.9,753.3 784.5,795.2 785.2,768.6 785.9,771.9 786.6,771.9 787.3,790.9 788.0,779.1 788.7,799.8 789.3,747.9 790.0,799.8 790.7,740.3 791.4,790.9 792.1,742.7 792.8,775.4 793.5,775.4 794.2,768.6 794.8,814.8 795.5,756.2 796.2,814.8 796.9,799.8 797.6,779.1 798.3,771.9 799.0,771.9 799.6,799.8 800.3,762.2 801.0,756.2 801.7,779.1 802.4,826.4 803.1,795.2 803.8,779.1 804.4,750.6 805.1,820.4 805.8,779.1 806.5,804.5 807.2,786.8 807.9,826.4 808.6,759.1 809.2,795.2 809.9,804.5 810.6,814.8 811.3,771.9 812.0,756.2 812.7,765.3 813.4,795.2 814.0,804.5 814.7,795.2 815.4,779.1 816.1,782.9 816.8,820.4 817.5,790.9 818.2,782.9 818.8,795.2 819.5,771.9 820.2,804.5 820.9,799.8 821.6,799.8 822.3,753.3 823.0,771.9 823.6,814.8 824.3,839.7 825.0,820.4 825.7,855.2 826.4,790.9 827.1,779.1 827.8,779.1 828.4,839.7 829.1,826.4 829.8,809.5 830.5,759.1 831.2,847.1 831.9,790.9 832.6,799.8 833.2,804.5 833.9,820.4 834.6,814.8 835.3,826.4 836.0,775.4 836.7,771.9 837.4,814.8 838.0,762.2 838.7,756.2 839.4,790.9 840.1,768.6 840.8,795.2 841.5,775.4 842.2,745.3 842.8,820.4 843.5,832.8 844.2,775.4 844.9,790.9 845.6,786.8 846.3,799.8 847.0,795.2 847.6,742.7 848.3,809.5 849.0,782.9 849.7,775.4 850.4,786.8 851.1,826.4 851.8,795.2 852.4,779.1 853.1,790.9 853.8,799.8 854.5,795.2 855.2,814.8 855.9,775.4 856.6,790.9 857.2,771.9 857.9,786.8 858.6,809.5 859.3,747.9 860.0,768.6 860.7,782.9 861.4,782.9 862.0,765.3 862.7,768.6 863.4,779.1 864.1,775.4 864.8,814.8 865.5,753.3 866.2,775.4 866.8,799.8 867.5,775.4 868.2,790.9 868.9,765.3 869.6,826.4 870.3,775.4 871.0,790.9 871.6,762.2 872.3,728.8 873.0,762.2 873.7,762.2 874.4,779.1 875.1,775.4 875.8,745.3 876.4,847.1 877.1,737.9 877.8,726.7 878.5,733.2 879.2,782.9 879.9,775.4 880.6,747.9 881.2,733.2 881.9,799.8 882.6,753.3 883.3,779.1 884.0,762.2 884.7,750.6 885.4,759.1 886.0,786.8 886.7,740.3 887.4,759.1 888.1,759.1 888.8,765.3 889.5,762.2 890.2,737.9 890.8,745.3 891.5,759.1 892.2,759.1 892.9,716.7 893.6,737.9 894.3,726.7 895.0,737.9 895.6,750.6 896.3,747.9 897.0,765.3 897.7,709.4 898.4,771.9 899.1,714.8 899.8,742.7 900.4,747.9 901.1,722.6 901.8,750.6 902.5,724.6 903.2,731.0 903.9,726.7 904.6,714.8 905.3,722.6 905.9,740.3 906.6,724.6 907.3,728.8 908.0,704.3 908.7,706.0 909.4,728.8 910.1,716.7 910.7,742.7 911.4,711.2 912.1,713.0 912.8,699.5 913.5,704.3 914.2,728.8 914.9,704.3 915.5,663.5 916.2,718.6 916.9,711.2 917.6,750.6 918.3,724.6 919.0,699.5 919.7,714.8 920.3,716.7 921.0,716.7 921.7,726.7 922.4,706.0 923.1,709.4 923.8,704.3 924.5,720.6 925.1,702.7 925.8,702.7 926.5,713.0 927.2,689.1 927.9,677.3 928.6,733.2 929.3,693.4 929.9,728.8 930.6,692.0 931.3,704.3 932.0,714.8 932.7,720.6 933.4,735.5 934.1,735.5 934.7,711.2 935.4,724.6 936.1,728.8 936.8,731.0 937.5,750.6 938.2,735.5 938.9,779.1 939.5,726.7 940.2,731.0 940.9,750.6 941.6,737.9 942.3,782.9 943.0,753.3 943.7,728.8 944.3,750.6 945.0,762.2 945.7,775.4 946.4,762.2 947.1,718.6 947.8,745.3 948.5,747.9 949.1,759.1 949.8,750.6 950.5,756.2 951.2,745.3 951.9,804.5 952.6,753.3 953.3,790.9 953.9,771.9 954.6,756.2 955.3,713.0 956.0,775.4 956.7,814.8 957.4,762.2 958.1,722.6 958.7,762.2 959.4,782.9 960.1,771.9 960.8,790.9 961.5,747.9 962.2,747.9 962.9,745.3 963.5,782.9 964.2,790.9 964.9,795.2 965.6,786.8 966.3,753.3 967.0,786.8 967.7,762.2 968.3,786.8 969.0,775.4 969.7,786.8 970.4,804.5 971.1,799.8 971.8,750.6 972.5,782.9 973.1,786.8 973.8,790.9 974.5,790.9 975.2,795.2 975.9,820.4 976.6,771.9 977.3,804.5 977.9,820.4 978.6,762.2 979.3,786.8 980.0,762.2 980.7,779.1 981.4,795.2 982.1,790.9 982.7,786.8 983.4,768.6 984.1,759.1 984.8,779.1 985.5,759.1 986.2,804.5 986.9,799.8 987.5,795.2 988.2,814.8 988.9,814.8 989.6,790.9 990.3,814.8 991.0,795.2 991.7,804.5 992.3,782.9 993.0,814.8 993.7,826.4 994.4,745.3 995.1,884.7 995.8,768.6 996.5,832.8 997.1,795.2 997.8,765.3 998.5,809.5 999.2,790.9 999.9,775.4 1000.6,779.1 1001.3,779.1 1001.9,765.3 1002.6,779.1 1003.3,809.5 1004.0,790.9 1004.7,799.8 1005.4,790.9 1006.1,814.8 1006.7,786.8 1007.4,809.5 1008.1,786.8 1008.8,804.5 1009.5,782.9 1010.2,809.5 1010.9,804.5 1011.5,765.3 1012.2,782.9 1012.9,820.4 1013.6,756.2 1014.3,855.2 1015.0,795.2 1015.7,790.9 1016.3,814.8 1017.0,742.7 1017.7,782.9 1018.4,775.4 1019.1,779.1 1019.8,790.9 1020.5,855.2 1021.2,790.9 1021.8,768.6 1022.5,747.9 1023.2,809.5 1023.9,799.8 1024.6,765.3 1025.3,832.8 1026.0,759.1 1026.6,855.2 1027.3,779.1 1028.0,753.3 1028.7,839.7 1029.4,759.1 1030.1,804.5 1030.8,768.6 1031.4,786.8 1032.1,804.5 1032.8,804.5 1033.5,759.1 1034.2,786.8 1034.9,747.9 1035.6,790.9 1036.2,753.3 1036.9,747.9 1037.6,733.2 1038.3,747.9 1039.0,733.2 1039.7,768.6 1040.4,775.4 1041.0,765.3 1041.7,750.6 1042.4,747.9 1043.1,790.9 1043.8,762.2 1044.5,731.0 1045.2,795.2 1045.8,722.6 1046.5,737.9 1047.2,771.9 1047.9,771.9 1048.6,756.2 1049.3,765.3 1050.0,747.9 1050.6,742.7 1051.3,742.7 1052.0,750.6 1052.7,735.5 1053.4,756.2 1054.1,704.3 1054.8,747.9 1055.4,720.6 1056.1,731.0 1056.8,726.7 1057.5,742.7 1058.2,762.2 1058.9,762.2 1059.6,737.9 1060.2,731.0 1060.9,753.3 1061.6,731.0 1062.3,747.9 1063.0,714.8 1063.7,718.6 1064.4,697.9 1065.0,737.9 1065.7,726.7 1066.4,762.2 1067.1,747.9 1067.8,726.7 1068.5,722.6 1069.2,745.3 1069.8,775.4 1070.5,724.6 1071.2,724.6 1071.9,737.9 1072.6,720.6 1073.3,718.6 1074.0,735.5 1074.6,750.6 1075.3,745.3 1076.0,771.9 1076.7,724.6 1077.4,709.4 1078.1,737.9 1078.8,740.3 1079.4,735.5 1080.1,765.3 1080.8,745.3 1081.5,724.6 1082.2,756.2 1082.9,759.1 1083.6,731.0 1084.2,726.7 1084.9,728.8 1085.6,724.6 1086.3,731.0 1087.0,713.0 1087.7,737.9 1088.4,731.0 1089.0,762.2 1089.7,742.7 1090.4,750.6 1091.1,724.6 1091.8,720.6 1092.5,724.6 1093.2,765.3 1093.8,733.2 1094.5,720.6 1095.2,716.7 1095.9,756.2 1096.6,735.5 1097.3,735.5 1098.0,747.9 1098.6,775.4 1099.3,768.6 1100.0,728.8 1100.7,733.2 1101.4,722.6 1102.1,747.9 1102.8,724.6 1103.4,711.2 1104.1,750.6 1104.8,724.6 1105.5,720.6 1106.2,742.7 1106.9,722.6 1107.6,731.0 1108.2,750.6 1108.9,718.6 1109.6,742.7 1110.3,735.5 1111.0,716.7 1111.7,756.2 1112.4,711.2 1113.0,711.2 1113.7,726.7 1114.4,733.2 1115.1,724.6 1115.8,737.9 1116.5,733.2 1117.2,759.1 1117.8,756.2 1118.5,762.2 1119.2,711.2 1119.9,733.2 1120.6,722.6 1121.3,726.7 1122.0,709.4 1122.6,718.6 1123.3,742.7 1124.0,737.9 1124.7,745.3 1125.4,795.2 1126.1,775.4 1126.8,745.3 1127.4,750.6 1128.1,768.6 1128.8,750.6 1129.5,775.4 1130.2,759.1 1130.9,747.9 1131.6,753.3 1132.2,771.9 1132.9,790.9 1133.6,756.2 1134.3,809.5 1135.0,740.3 1135.7,799.8 1136.4,750.6 1137.1,779.1 1137.7,790.9 1138.4,790.9 1139.1,750.6 1139.8,747.9 1140.5,782.9 1141.2,814.8 1141.9,786.8 1142.5,756.2 1143.2,765.3 1143.9,786.8 1144.6,795.2 1145.3,782.9 1146.0,786.8 1146.7,782.9 1147.3,775.4 1148.0,786.8 1148.7,795.2 1149.4,832.8 1150.1,786.8 1150.8,762.2 1151.5,804.5 1152.1,747.9 1152.8,790.9 1153.5,759.1 1154.2,768.6 1154.9,790.9 1155.6,775.4 1156.3,779.1 1156.9,790.9 1157.6,753.3 1158.3,756.2 1159.0,756.2 1159.7,768.6 1160.4,768.6 1161.1,753.3 1161.7,779.1 1162.4,799.8 1163.1,786.8 1163.8,809.5 1164.5,765.3 1165.2,795.2 1165.9,765.3 1166.5,782.9 1167.2,779.1 1167.9,786.8 1168.6,782.9 1169.3,786.8 1170.0,720.6 1170.7,762.2 1171.3,753.3 1172.0,759.1 1172.7,765.3 1173.4,753.3 1174.1,726.7 1174.8,795.2 1175.5,795.2 1176.1,750.6 1176.8,762.2 1177.5,728.8 1178.2,768.6 1178.9,735.5 1179.6,756.2 1180.3,762.2 1180.9,756.2 1181.6,737.9 1182.3,779.1 1183.0,756.2 1183.7,742.7 1184.4,768.6 1185.1,795.2 1185.7,753.3 1186.4,756.2 1187.1,765.3 1187.8,771.9 1188.5,775.4 1189.2,745.3 1189.9,765.3 1190.5,750.6 1191.2,765.3 1191.9,768.6 1192.6,779.1 1193.3,753.3 1194.0,768.6 1194.7,750.6 1195.3,745.3 1196.0,731.0 1196.7,765.3 1197.4,775.4 1198.1,726.7 1198.8,771.9 1199.5,775.4 1200.1,756.2 1200.8,745.3 1201.5,759.1 1202.2,790.9 1202.9,750.6 1203.6,799.8 1204.3,768.6 1204.9,726.7 1205.6,724.6 1206.3,750.6 1207.0,733.2 1207.7,731.0 1208.4,762.2 1209.1,740.3 1209.7,753.3 1210.4,747.9 1211.1,765.3 1211.8,724.6 1212.5,742.7 1213.2,731.0 1213.9,753.3 1214.5,737.9 1215.2,775.4 1215.9,768.6 1216.6,737.9 1217.3,750.6 1218.0,768.6 1218.7,753.3 1219.3,759.1 1220.0,742.7 1220.7,731.0 1221.4,759.1 1222.1,768.6 1222.8,750.6 1223.5,771.9 1224.1,742.7 1224.8,779.1 1225.5,735.5 1226.2,765.3 1226.9,750.6 1227.6,726.7 1228.3,747.9 1228.9,740.3 1229.6,737.9 1230.3,718.6 1231.0,737.9 1231.7,733.2 1232.4,733.2 1233.1,768.6 1233.7,728.8 1234.4,728.8 1235.1,756.2 1235.8,731.0 1236.5,750.6 1237.2,753.3 1237.9,747.9 1238.5,726.7 1239.2,714.8 1239.9,733.2 1240.6,722.6 1241.3,728.8 1242.0,716.7 1242.7,737.9 1243.3,722.6 1244.0,747.9 1244.7,728.8 1245.4,737.9 1246.1,697.9 1246.8,753.3 1247.5,728.8 1248.2,714.8 1248.8,733.2 1249.5,704.3 1250.2,711.2 1250.9,731.0 1251.6,728.8 1252.3,716.7 1253.0,707.7 1253.6,716.7 1254.3,696.4 1255.0,740.3 1255.7,724.6 1256.4,716.7 1257.1,706.0 1257.8,697.9 1258.4,726.7 1259.1,733.2 1259.8,716.7 1260.5,728.8 1261.2,733.2 1261.9,731.0 1262.6,745.3 1263.2,726.7 1263.9,782.9 1264.6,731.0 1265.3,740.3 1266.0,694.9 1266.7,728.8 1267.4,745.3 1268.0,747.9 1268.7,753.3 1269.4,747.9 1270.1,740.3 1270.8,742.7 1271.5,750.6 1272.2,742.7 1272.8,795.2 1273.5,737.9 1274.2,753.3 1274.9,771.9 1275.6,765.3 1276.3,775.4 1277.0,765.3 1277.6,765.3 1278.3,750.6 1279.0,759.1 1279.7,735.5 1280.4,753.3 1281.1,737.9 1281.8,782.9 1282.4,740.3 1283.1,747.9 1283.8,737.9 1284.5,771.9 1285.2,718.6 1285.9,750.6 1286.6,728.8 1287.2,786.8 1287.9,745.3 1288.6,768.6 1289.3,724.6 1290.0,775.4 1290.7,733.2 1291.4,795.2 1292.0,737.9 1292.7,733.2 1293.4,742.7 1294.1,814.8 1294.8,740.3 1295.5,745.3 1296.2,747.9 1296.8,740.3 1297.5,753.3 1298.2,747.9 1298.9,742.7 1299.6,745.3 1300.3,713.0 1301.0,716.7 1301.6,747.9 1302.3,733.2 1303.0,765.3 1303.7,735.5 1304.4,740.3 1305.1,728.8 1305.8,728.8 1306.4,742.7 1307.1,720.6 1307.8,711.2 1308.5,728.8 1309.2,714.8 1309.9,702.7 1310.6,720.6 1311.2,733.2 1311.9,740.3 1312.6,728.8 1313.3,714.8 1314.0,720.6 1314.7,718.6 1315.4,726.7 1316.0,718.6 1316.7,735.5 1317.4,706.0 1318.1,709.4 1318.8,699.5 1319.5,713.0 1320.2,709.4 1320.8,692.0 1321.5,701.1 1322.2,724.6 1322.9,702.7 1323.6,711.2 1324.3,726.7 1325.0,702.7 1325.6,716.7 1326.3,694.9 1327.0,699.5 1327.7,681.0 1328.4,693.4 1329.1,686.3 1329.8,706.0 1330.4,687.7 1331.1,696.4 1331.8,709.4 1332.5,718.6 1333.2,676.0 1333.9,687.7 1334.6,669.0 1335.2,693.4 1335.9,701.1 1336.6,683.7 1337.3,686.3 1338.0,673.6 1338.7,678.5 1339.4,694.9 1340.0,672.4 1340.7,685.0 1341.4,678.5 1342.1,664.6 1342.8,658.3 1343.5,689.1 1344.2,673.6 1344.8,652.5 1345.5,659.3 1346.2,679.8 1346.9,644.3 1347.6,679.8 1348.3,647.0 1349.0,665.7 1349.6,679.8 1350.3,656.3 1351.0,663.5 1351.7,657.3 1352.4,654.4 1353.1,632.9 1353.8,626.3 1354.4,634.5 1355.1,652.5 1355.8,636.8 1356.5,615.5 1357.2,636.8 1357.9,607.0 1358.6,602.0 1359.2,593.6 1359.9,586.8 1360.6,590.1 1361.3,588.2 1362.0,578.8 1362.7,579.2 1363.4,566.1 1364.1,568.3 1364.7,570.6 1365.4,569.5 1366.1,575.9 1366.8,564.9 1367.5,589.7 1368.2,584.1 1368.9,591.6 1369.5,586.8 1370.2,597.7 1370.9,595.1 1371.6,603.6 1372.3,610.0 1373.0,626.3 1373.7,618.1 1374.3,622.1 1375.0,616.2 1375.7,635.3 1376.4,638.5 1377.1,623.5 1377.8,631.4 1378.5,636.8 1379.1,630.7 1379.8,636.0 1380.5,639.3 1381.2,632.2 1381.9,642.6 1382.6,627.0 1383.3,638.5 1383.9,636.0 1384.6,635.3 1385.3,664.6 1386.0,644.3 1386.7,658.3 1387.4,640.1 1388.1,655.4 1388.7,651.5 1389.4,651.5 1390.1,648.8 1390.8,658.3 1391.5,665.7 1392.2,654.4 1392.9,645.2 1393.5,639.3 1394.2,629.9 1394.9,654.4 1395.6,649.7 1396.3,660.4 1397.0,663.5 1397.7,636.8 1398.3,631.4 1399.0,640.1 1399.7,650.6 1400.4,664.6 1401.1,651.5 1401.8,647.9 1402.5,660.4 1403.1,657.3 1403.8,636.0 1404.5,660.4 1405.2,673.6 1405.9,671.3 1406.6,636.0 1407.3,647.0 1407.9,637.6 1408.6,667.9 1409.3,648.8 1410.0,636.8 1410.7,649.7 1411.4,655.4 1412.1,647.0 1412.7,659.3 1413.4,661.4 1414.1,663.5 1414.8,642.6 1415.5,669.0 1416.2,654.4 1416.9,636.0 1417.5,644.3 1418.2,645.2 1418.9,657.3 1419.6,667.9 1420.3,663.5 1421.0,655.4 1421.7,662.4 1422.3,651.5 1423.0,653.4 1423.7,649.7 1424.4,655.4 1425.1,653.4 1425.8,661.4 1426.5,666.8 1427.1,646.1 1427.8,665.7 1428.5,654.4 1429.2,646.1 1429.9,672.4 1430.6,657.3 1431.3,657.3 1431.9,654.4 1432.6,663.5 1433.3,641.8 1434.0,651.5 1434.7,657.3 1435.4,642.6 1436.1,655.4 1436.7,641.8 1437.4,645.2 1438.1,658.3 1438.8,656.3 1439.5,656.3 1440.2,652.5 1440.9,651.5 1441.5,662.4 1442.2,657.3 1442.9,667.9 1443.6,682.3 1444.3,643.5 1445.0,647.0 1445.7,660.4 1446.3,650.6 1447.0,649.7 1447.7,653.4 1448.4,649.7 1449.1,644.3 1449.8,655.4 1450.5,658.3 1451.1,673.6 1451.8,653.4 1452.5,652.5 1453.2,660.4 1453.9,656.3 1454.6,659.3 1455.3,648.8 1455.9,669.0 1456.6,658.3 1457.3,650.6 1458.0,652.5 1458.7,662.4 1459.4,650.6 1460.1,663.5 1460.7,670.1 1461.4,632.2 1462.1,660.4 1462.8,655.4 1463.5,649.7 1464.2,622.8 1464.9,644.3 1465.5,652.5 1466.2,644.3 1466.9,652.5 1467.6,640.9 1468.3,644.3 1469.0,639.3 1469.7,634.5 1470.3,650.6 1471.0,670.1 1471.7,628.4 1472.4,647.9 1473.1,648.8 1473.8,638.5 1474.5,636.0 1475.1,654.4 1475.8,660.4 1476.5,641.8 1477.2,637.6 1477.9,636.0 1478.6,651.5 1479.3,639.3 1480.0,651.5 1480.6,622.1 1481.3,653.4 1482.0,659.3 1482.7,614.9 1483.4,647.0 1484.1,644.3 1484.8,640.1 1485.4,625.6 1486.1,629.2 1486.8,632.2 1487.5,603.6 1488.2,618.1 1488.9,596.1 1489.6,605.3 1490.2,610.6 1490.9,598.7 1491.6,590.1 1492.3,584.1 1493.0,592.6 1493.7,588.2 1494.4,589.7 1495.0,586.4 1495.7,587.3 1496.4,596.6 1497.1,596.1 1497.8,598.2 1499.7,612.0 1501.0,650.0 1501.6,700.0 1501.8,780.0 1502.2,850.0 1503.6,895.0 1504.5,960.0 1505.5,1030.0 1506.3,1077.5 1507.0,1400.0"/>
<polyline stroke="#ff8000" points="240.7,975.6 242.1,975.6 243.5,1077.4 244.8,975.6 246.2,975.6 247.6,1400.0 248.9,975.6 250.3,1077.4 251.7,928.2 253.1,928.2 254.4,1013.2 255.8,928.2 257.2,928.2 258.5,928.2 259.9,1077.4 261.3,928.2 262.7,975.6 264.0,975.6 265.4,1400.0 266.8,948.9 268.1,948.9 269.5,1077.4 270.9,948.9 272.3,1400.0 273.6,692.0 274.3,683.7 275.0,728.8 275.7,704.3 276.4,693.4 277.1,731.0 277.7,718.6 278.4,716.7 279.1,720.6 279.8,722.6 280.5,728.8 281.2,720.6 281.9,728.8 282.5,722.6 283.2,718.6 283.9,713.0 284.6,702.7 285.3,733.2 286.0,737.9 286.7,713.0 287.3,702.7 288.0,713.0 288.7,709.4 289.4,701.1 290.1,724.6 290.8,701.1 291.5,696.4 292.1,713.0 292.8,676.0 293.5,709.4 294.2,704.3 294.9,694.9 295.6,702.7 296.3,707.7 296.9,693.4 297.6,697.9 298.3,713.0 299.0,696.4 299.7,699.5 300.4,687.7 301.1,707.7 301.7,686.3 302.4,685.0 303.1,686.3 303.8,713.0 304.5,685.0 305.2,671.3 305.9,702.7 306.5,677.3 307.2,677.3 307.9,670.1 308.6,670.1 309.3,683.7 310.0,670.1 310.7,638.5 311.3,664.6 312.0,664.6 312.7,653.4 313.4,673.6 314.1,662.4 314.8,658.3 315.5,650.6 316.1,655.4 316.8,658.3 317.5,670.1 318.2,665.7 318.9,643.5 319.6,671.3 320.3,642.6 320.9,648.8 321.6,659.3 322.3,646.1 323.0,648.8 323.7,654.4 324.4,659.3 325.1,661.4 325.7,645.2 326.4,662.4 327.1,656.3 327.8,667.9 328.5,673.6 329.2,662.4 329.9,671.3 330.5,664.6 331.2,669.0 331.9,647.0 332.6,652.5 333.3,692.0 334.0,679.8 334.7,672.4 335.4,665.7 336.0,678.5 336.7,681.0 337.4,674.8 338.1,673.6 338.8,659.3 339.5,673.6 340.2,681.0 340.8,662.4 341.5,682.3 342.2,659.3 342.9,681.0 343.6,696.4 344.3,679.8 345.0,667.9 345.6,690.5 346.3,664.6 347.0,670.1 347.7,678.5 348.4,692.0 349.1,690.5 349.8,686.3 350.4,654.4 351.1,678.5 351.8,697.9 352.5,709.4 353.2,677.3 353.9,690.5 354.6,676.0 355.2,674.8 355.9,671.3 356.6,678.5 357.3,678.5 358.0,690.5 358.7,664.6 359.4,674.8 360.0,665.7 360.7,690.5 361.4,683.7 362.1,664.6 362.8,681.0 363.5,673.6 364.2,647.0 364.8,652.5 365.5,672.4 366.2,644.3 366.9,667.9 367.6,642.6 368.3,673.6 369.0,677.3 369.6,647.0 370.3,660.4 371.0,640.1 371.7,652.5 372.4,657.3 373.1,658.3 373.8,656.3 374.4,665.7 375.1,643.5 375.8,648.8 376.5,659.3 377.2,662.4 377.9,646.1 378.6,641.8 379.2,644.3 379.9,655.4 380.6,663.5 381.3,654.4 382.0,646.1 382.7,660.4 383.4,657.3 384.0,651.5 384.7,651.5 385.4,622.1 386.1,647.0 386.8,647.0 387.5,636.0 388.2,658.3 388.8,640.1 389.5,627.7 390.2,643.5 390.9,632.9 391.6,623.5 392.3,626.3 393.0,620.1 393.6,647.0 394.3,634.5 395.0,647.9 395.7,632.9 396.4,639.3 397.1,622.8 397.8,616.8 398.4,622.8 399.1,628.4 399.8,639.3 400.5,613.0 401.2,636.0 401.9,631.4 402.6,603.1 403.2,614.9 403.9,624.9 404.6,627.7 405.3,629.9 406.0,611.2 406.7,619.4 407.4,617.5 408.0,606.5 408.7,611.2 409.4,611.2 410.1,624.2 410.8,623.5 411.5,605.3 412.2,616.2 412.8,612.4 413.5,605.3 414.2,640.1 414.9,606.5 415.6,611.2 416.3,622.1 417.0,602.5 417.6,621.4 418.3,616.8 419.0,627.0 419.7,638.5 420.4,636.8 421.1,633.7 421.8,644.3 422.4,646.1 423.1,634.5 423.8,646.1 424.5,623.5 425.2,641.8 425.9,646.1 426.6,625.6 427.2,643.5 427.9,619.4 428.6,654.4 429.3,636.0 430.0,644.3 430.7,647.0 431.4,630.7 432.0,628.4 432.7,641.8 433.4,634.5 434.1,642.6 434.8,658.3 435.5,629.9 436.2,653.4 436.8,634.5 437.5,661.4 438.2,649.7 438.9,636.8 439.6,637.6 440.3,634.5 441.0,641.8 441.6,652.5 442.3,645.2 443.0,643.5 443.7,629.9 444.4,653.4 445.1,636.8 445.8,629.9 446.5,629.9 447.1,644.3 447.8,651.5 448.5,647.9 449.2,638.5 449.9,650.6 450.6,645.2 451.3,640.1 451.9,654.4 452.6,637.6 453.3,647.9 454.0,631.4 454.7,629.2 455.4,641.8 456.1,658.3 456.7,633.7 457.4,652.5 458.1,663.5 458.8,644.3 459.5,640.9 460.2,665.7 460.9,636.8 461.5,646.1 462.2,652.5 462.9,640.9 463.6,660.4 464.3,649.7 465.0,659.3 465.7,662.4 466.3,633.7 467.0,645.2 467.7,664.6 468.4,663.5 469.1,648.8 469.8,665.7 470.5,632.9 471.1,640.1 471.8,646.1 472.5,639.3 473.2,644.3 473.9,664.6 474.6,640.9 475.3,650.6 475.9,653.4 476.6,648.8 477.3,645.2 478.0,640.9 478.7,659.3 479.4,638.5 480.1,636.0 480.7,652.5 481.4,640.1 482.1,649.7 482.8,637.6 483.5,659.3 484.2,661.4 484.9,654.4 485.5,644.3 486.2,635.3 486.9,640.9 487.6,627.0 488.3,631.4 489.0,644.3 489.7,651.5 490.3,644.3 491.0,642.6 491.7,619.4 492.4,627.7 493.1,640.1 493.8,647.0 494.5,626.3 495.1,631.4 495.8,637.6 496.5,630.7 497.2,644.3 497.9,633.7 498.6,625.6 499.3,630.7 499.9,629.9 500.6,631.4 501.3,628.4 502.0,636.0 502.7,618.1 503.4,613.6 504.1,632.2 504.7,633.7 505.4,620.1 506.1,624.9 506.8,609.4 507.5,627.0 508.2,605.3 508.9,624.9 509.5,629.2 510.2,612.4 510.9,629.2 511.6,618.8 512.3,615.5 513.0,608.8 513.7,608.2 514.3,606.5 515.0,614.3 515.7,620.1 516.4,595.1 517.1,602.0 517.8,599.8 518.5,610.6 519.1,611.8 519.8,598.7 520.5,611.8 521.2,603.6 521.9,592.6 522.6,605.3 523.3,602.5 523.9,577.1 524.6,598.2 525.3,601.4 526.0,578.8 526.7,582.3 527.4,594.1 528.1,595.6 528.7,599.3 529.4,604.8 530.1,571.4 530.8,593.6 531.5,599.8 532.2,592.1 532.9,599.8 533.5,596.1 534.2,593.6 534.9,599.8 535.6,593.6 536.3,573.8 537.0,595.1 537.7,604.8 538.3,581.8 539.0,591.1 539.7,587.3 540.4,603.1 541.1,603.6 541.8,581.0 542.5,606.5 543.1,600.3 543.8,600.9 544.5,610.0 545.2,605.9 545.9,590.6 546.6,610.0 547.3,602.0 547.9,600.9 548.6,610.6 549.3,604.2 550.0,616.8 550.7,614.3 551.4,621.4 552.1,614.9 552.7,621.4 553.4,608.8 554.1,626.3 554.8,627.0 555.5,614.9 556.2,605.9 556.9,624.2 557.5,648.8 558.2,624.9 558.9,636.8 559.6,623.5 560.3,614.3 561.0,646.1 561.7,635.3 562.4,631.4 563.0,633.7 563.7,654.4 564.4,658.3 565.1,639.3 565.8,621.4 566.5,614.3 567.2,633.7 567.8,634.5 568.5,636.8 569.2,650.6 569.9,660.4 570.6,637.6 571.3,656.3 572.0,640.1 572.6,624.9 573.3,629.2 574.0,661.4 574.7,640.1 575.4,646.1 576.1,628.4 576.8,640.1 577.4,649.7 578.1,629.2 578.8,639.3 579.5,640.9 580.2,624.9 580.9,631.4 581.6,642.6 582.2,646.1 582.9,655.4 583.6,640.1 584.3,634.5 585.0,632.9 585.7,647.9 586.4,652.5 587.0,640.9 587.7,635.3 588.4,650.6 589.1,651.5 589.8,647.9 590.5,654.4 591.2,641.8 591.8,647.9 592.5,641.8 593.2,625.6 593.9,635.3 594.6,637.6 595.3,629.9 596.0,641.8 596.6,643.5 597.3,654.4 598.0,636.0 598.7,644.3 599.4,651.5 600.1,637.6 600.8,632.2 601.4,628.4 602.1,636.8 602.8,638.5 603.5,642.6 604.2,626.3 604.9,632.9 605.6,656.3 606.2,647.0 606.9,627.7 607.6,638.5 608.3,627.7 609.0,639.3 609.7,627.7 610.4,645.2 611.0,631.4 611.7,634.5 612.4,640.9 613.1,626.3 613.8,646.1 614.5,640.9 615.2,624.9 615.8,642.6 616.5,624.2 617.2,639.3 617.9,640.9 618.6,640.1 619.3,643.5 620.0,628.4 620.6,630.7 621.3,633.7 622.0,641.8 622.7,649.7 623.4,631.4 624.1,626.3 624.8,636.0 625.4,623.5 626.1,639.3 626.8,632.9 627.5,626.3 628.2,629.2 628.9,615.5 629.6,629.2 630.2,620.7 630.9,639.3 631.6,636.8 632.3,618.1 633.0,626.3 633.7,627.0 634.4,611.8 635.0,627.0 635.7,627.0 636.4,605.3 637.1,613.0 637.8,632.9 638.5,627.7 639.2,630.7 639.8,610.6 640.5,620.1 641.2,625.6 641.9,629.9 642.6,629.2 643.3,616.2 644.0,615.5 644.6,619.4 645.3,613.0 646.0,619.4 646.7,604.2 647.4,603.6 648.1,621.4 648.8,605.3 649.4,611.8 650.1,620.1 650.8,598.2 651.5,600.9 652.2,593.1 652.9,590.1 653.6,600.9 654.2,591.6 654.9,606.5 655.6,591.6 656.3,603.1 657.0,581.8 657.7,586.8 658.4,585.0 659.0,586.4 659.7,590.1 660.4,588.2 661.1,593.1 661.8,580.5 662.5,588.7 663.2,587.3 663.8,583.6 664.5,581.0 665.2,571.0 665.9,597.7 666.6,584.1 667.3,581.4 668.0,574.2 668.6,577.5 669.3,573.8 670.0,570.2 670.7,581.8 671.4,580.1 672.1,570.6 672.8,565.7 673.4,584.1 674.1,573.4 674.8,577.9 675.5,573.4 676.2,582.7 676.9,581.0 677.6,571.4 678.3,575.4 678.9,571.4 679.6,574.6 680.3,571.0 681.0,572.2 681.7,581.0 682.4,574.6 683.1,568.7 683.7,567.9 684.4,574.6 685.1,579.2 685.8,571.8 686.5,575.9 687.2,572.6 687.9,589.7 688.5,579.2 689.2,594.6 689.9,581.4 690.6,583.6 691.3,586.4 692.0,585.0 692.7,585.9 693.3,579.2 694.0,593.1 694.7,575.0 695.4,598.2 696.1,596.6 696.8,602.0 697.5,607.6 698.1,600.3 698.8,616.2 699.5,598.7 700.2,618.1 700.9,607.6 701.6,603.1 702.3,613.0 702.9,610.6 703.6,614.3 704.3,620.7 705.0,608.8 705.7,604.2 706.4,624.2 707.1,613.6 707.7,629.9 708.4,625.6 709.1,620.7 709.8,607.0 710.5,631.4 711.2,627.0 711.9,624.2 712.5,624.2 713.2,627.7 713.9,632.2 714.6,625.6 715.3,624.9 716.0,619.4 716.7,632.2 717.3,629.2 718.0,636.8 718.7,626.3 719.4,615.5 720.1,640.1 720.8,625.6 721.5,641.8 722.1,639.3 722.8,651.5 723.5,618.1 724.2,632.9 724.9,626.3 725.6,626.3 726.3,614.3 726.9,654.4 727.6,631.4 728.3,627.7 729.0,629.9 729.7,640.1 730.4,646.1 731.1,651.5 731.7,645.2 732.4,630.7 733.1,634.5 733.8,640.9 734.5,623.5 735.2,641.8 735.9,645.2 736.5,650.6 737.2,641.8 737.9,651.5 738.6,650.6 739.3,648.8 740.0,670.1 740.7,652.5 741.3,640.1 742.0,655.4 742.7,660.4 743.4,644.3 744.1,649.7 744.8,642.6 745.5,653.4 746.1,618.1 746.8,644.3 747.5,636.0 748.2,650.6 748.9,662.4 749.6,644.3 750.3,636.8 750.9,633.7 751.6,642.6 752.3,640.9 753.0,650.6 753.7,639.3 754.4,657.3 755.1,666.8 755.7,645.2 756.4,653.4 757.1,648.8 757.8,641.8 758.5,642.6 759.2,630.7 759.9,661.4 760.5,661.4 761.2,630.7 761.9,653.4 762.6,649.7 763.3,645.2 764.0,644.3 764.7,649.7 765.3,645.2 766.0,663.5 766.7,646.1 767.4,658.3 768.1,644.3 768.8,631.4 769.5,635.3 770.1,642.6 770.8,647.0 771.5,631.4 772.2,667.9 772.9,660.4 773.6,635.3 774.3,642.6 774.9,640.9 775.6,641.8 776.3,657.3 777.0,662.4 777.7,647.9 778.4,640.1 779.1,626.3 779.7,633.7 780.4,639.3 781.1,637.6 781.8,657.3 782.5,633.7 783.2,651.5 783.9,638.5 784.5,643.5 785.2,659.3 785.9,628.4 786.6,618.1 787.3,640.9 788.0,653.4 788.7,622.1 789.4,619.4 790.0,615.5 790.7,635.3 791.4,629.9 792.1,640.9 792.8,625.6 793.5,649.7 794.2,625.6 794.8,611.8 795.5,617.5 796.2,622.8 796.9,621.4 797.6,640.1 798.3,626.3 799.0,613.6 799.6,622.1 800.3,613.6 801.0,611.2 801.7,599.8 802.4,602.0 803.1,614.3 803.8,613.0 804.4,626.3 805.1,604.2 805.8,592.1 806.5,616.2 807.2,608.8 807.9,604.8 808.6,588.7 809.2,608.8 809.9,592.6 810.6,599.8 811.3,613.6 812.0,596.6 812.7,608.2 813.4,604.2 814.0,601.4 814.7,604.2 815.4,599.3 816.1,605.9 816.8,591.1 817.5,588.7 818.2,585.9 818.8,587.3 819.5,591.1 820.2,589.2 820.9,584.5 821.6,591.1 822.3,594.6 823.0,581.4 823.6,608.8 824.3,595.6 825.0,597.2 825.7,589.2 826.4,579.7 827.1,605.3 827.8,579.2 828.4,577.5 829.1,578.8 829.8,586.8 830.5,594.6 831.2,584.1 831.9,596.1 832.6,581.0 833.2,587.8 833.9,594.1 834.6,591.6 835.3,585.4 836.0,584.5 836.7,585.0 837.4,590.1 838.0,578.8 838.7,586.4 839.4,594.1 840.1,594.1 840.8,599.3 841.5,613.0 842.2,606.5 842.8,594.6 843.5,602.5 844.2,585.9 844.9,595.6 845.6,621.4 846.3,613.0 847.0,602.5 847.6,603.6 848.3,616.8 849.0,603.6 849.7,620.1 850.4,614.9 851.1,622.8 851.8,625.6 852.4,630.7 853.1,626.3 853.8,620.7 854.5,611.2 855.2,638.5 855.9,625.6 856.6,630.7 857.2,626.3 857.9,620.1 858.6,629.9 859.3,621.4 860.0,639.3 860.7,618.8 861.4,616.2 862.0,637.6 862.7,647.9 863.4,638.5 864.1,616.8 864.8,634.5 865.5,622.1 866.2,638.5 866.8,629.9 867.5,650.6 868.2,629.9 868.9,630.7 869.6,647.0 870.3,639.3 871.0,628.4 871.6,642.6 872.3,639.3 873.0,626.3 873.7,629.9 874.4,642.6 875.1,640.1 875.8,667.9 876.4,647.9 877.1,636.8 877.8,627.7 878.5,644.3 879.2,661.4 879.9,646.1 880.6,633.7 881.2,636.8 881.9,647.0 882.6,644.3 883.3,662.4 884.0,632.9 884.7,642.6 885.4,631.4 886.0,649.7 886.7,665.7 887.4,634.5 888.1,653.4 888.8,647.9 889.5,650.6 890.2,652.5 890.8,647.0 891.5,654.4 892.2,651.5 892.9,640.9 893.6,639.3 894.3,667.9 895.0,654.4 895.6,663.5 896.3,659.3 897.0,646.1 897.7,650.6 898.4,656.3 899.1,628.4 899.8,643.5 900.4,644.3 901.1,649.7 901.8,650.6 902.5,646.1 903.2,635.3 903.9,641.8 904.6,640.9 905.3,632.9 905.9,629.2 906.6,632.2 907.3,648.8 908.0,636.8 908.7,635.3 909.4,646.1 910.1,629.2 910.7,627.0 911.4,622.1 912.1,629.2 912.8,634.5 913.5,657.3 914.2,634.5 914.9,646.1 915.5,619.4 916.2,641.8 916.9,650.6 917.6,620.7 918.3,621.4 919.0,632.9 919.7,647.9 920.3,623.5 921.0,622.1 921.7,632.9 922.4,627.0 923.1,608.2 923.8,636.0 924.5,635.3 925.1,622.8 925.8,630.7 926.5,621.4 927.2,618.1 927.9,628.4 928.6,617.5 929.3,626.3 929.9,617.5 930.6,637.6 931.3,639.3 932.0,622.1 932.7,624.2 933.4,609.4 934.1,616.2 934.7,620.7 935.4,623.5 936.1,623.5 936.8,608.2 937.5,602.5 938.2,599.3 938.9,607.0 939.5,619.4 940.2,601.4 940.9,607.0 941.6,623.5 942.3,601.4 943.0,610.0 943.7,617.5 944.3,596.6 945.0,595.1 945.7,609.4 946.4,594.1 947.1,605.3 947.8,616.8 948.5,605.3 949.1,596.1 949.8,582.3 950.5,604.2 951.2,585.0 951.9,579.2 952.6,586.8 953.3,588.7 953.9,586.8 954.6,580.1 955.3,586.8 956.0,576.7 956.7,593.1 957.4,567.2 958.1,583.6 958.7,591.1 959.4,578.8 960.1,575.4 960.8,577.9 961.5,598.2 962.2,576.7 962.9,583.6 963.5,575.4 964.2,575.0 964.9,580.1 965.6,587.3 966.3,575.9 967.0,566.1 967.7,595.1 968.3,577.5 969.0,580.1 969.7,571.8 970.4,576.3 971.1,574.2 971.8,579.7 972.5,594.1 973.1,571.0 973.8,590.1 974.5,585.9 975.2,576.7 975.9,585.0 976.6,585.9 977.3,587.8 977.9,586.8 978.6,601.4 979.3,604.2 980.0,585.0 980.7,587.8 981.4,594.1 982.1,612.4 982.7,600.3 983.4,604.2 984.1,588.2 984.8,596.6 985.5,605.9 986.2,608.8 986.9,598.2 987.5,600.9 988.2,585.0 988.9,610.6 989.6,622.1 990.3,624.9 991.0,598.7 991.7,605.9 992.3,605.9 993.0,605.3 993.7,610.0 994.4,615.5 995.1,626.3 995.8,640.1 996.5,638.5 997.1,622.8 997.8,627.7 998.5,623.5 999.2,630.7 999.9,634.5 1000.6,622.1 1001.3,630.7 1001.9,653.4 1002.6,626.3 1003.3,629.9 1004.0,607.6 1004.7,627.0 1005.4,641.8 1006.1,624.9 1006.7,630.7 1007.4,638.5 1008.1,629.9 1008.8,629.9 1009.5,642.6 1010.2,641.8 1010.9,643.5 1011.5,641.8 1012.2,649.7 1012.9,651.5 1013.6,622.1 1014.3,633.7 1015.0,647.0 1015.7,649.7 1016.3,629.2 1017.0,632.9 1017.7,613.6 1018.4,657.3 1019.1,629.9 1019.8,633.7 1020.5,644.3 1021.2,635.3 1021.8,647.0 1022.5,632.2 1023.2,632.2 1023.9,639.3 1024.6,640.9 1025.3,639.3 1026.0,643.5 1026.6,641.8 1027.3,630.7 1028.0,646.1 1028.7,640.9 1029.4,625.6 1030.1,636.8 1030.8,626.3 1031.4,632.9 1032.1,640.9 1032.8,630.7 1033.5,636.8 1034.2,637.6 1034.9,634.5 1035.6,624.2 1036.2,653.4 1036.9,640.1 1037.6,613.0 1038.3,629.2 1039.0,620.1 1039.7,618.8 1040.4,639.3 1041.0,631.4 1041.7,635.3 1042.4,615.5 1043.1,624.9 1043.8,641.8 1044.5,609.4 1045.2,616.8 1045.8,637.6 1046.5,604.2 1047.2,610.6 1047.9,600.9 1048.6,621.4 1049.3,613.6 1050.0,599.3 1050.6,618.1 1051.3,599.3 1052.0,621.4 1052.7,602.5 1053.4,604.2 1054.1,605.9 1054.8,608.8 1055.4,603.6 1056.1,597.2 1056.8,597.2 1057.5,593.6 1058.2,599.3 1058.9,600.9 1059.6,593.1 1060.2,604.2 1060.9,584.1 1061.6,591.1 1062.3,590.1 1063.0,579.2 1063.7,592.1 1064.4,584.1 1065.0,583.6 1065.7,580.1 1066.4,574.6 1067.1,573.8 1067.8,577.1 1068.5,564.6 1069.2,580.5 1069.8,578.4 1070.5,574.2 1071.2,563.5 1071.9,575.0 1072.6,586.8 1073.3,567.9 1074.0,576.7 1074.6,577.9 1075.3,565.3 1076.0,567.2 1076.7,566.1 1077.4,571.0 1078.1,577.5 1078.8,586.4 1079.4,577.1 1080.1,578.8 1080.8,564.6 1081.5,575.0 1082.2,578.4 1082.9,563.1 1083.6,580.1 1084.2,571.8 1084.9,579.7 1085.6,567.6 1086.3,579.7 1087.0,578.4 1087.7,583.2 1088.4,584.5 1089.0,582.7 1089.7,586.4 1090.4,595.6 1091.1,588.7 1091.8,622.8 1092.5,581.0 1093.2,581.0 1093.8,585.0 1094.5,594.6 1095.2,595.1 1095.9,583.6 1096.6,587.3 1097.3,592.1 1098.0,577.5 1098.6,574.2 1099.3,584.5 1100.0,598.7 1100.7,603.6 1101.4,586.8 1102.1,605.9 1102.8,593.6 1103.4,582.3 1104.1,584.1 1104.8,596.1 1105.5,593.1 1106.2,607.6 1106.9,600.9 1107.6,589.2 1108.2,586.8 1108.9,586.8 1109.6,602.5 1110.3,579.2 1111.0,597.7 1111.7,602.5 1112.4,595.1 1113.0,602.5 1113.7,594.1 1114.4,599.3 1115.1,602.0 1115.8,606.5 1116.5,613.6 1117.2,614.9 1117.8,632.2 1118.5,607.0 1119.2,611.2 1119.9,623.5 1120.6,604.2 1121.3,604.8 1122.0,611.2 1122.6,615.5 1123.3,640.1 1124.0,616.2 1124.7,627.0 1125.4,613.6 1126.1,614.3 1126.8,623.5 1127.4,648.8 1128.1,620.7 1128.8,620.7 1129.5,621.4 1130.2,621.4 1130.9,615.5 1131.6,622.8 1132.2,628.4 1132.9,621.4 1133.6,627.0 1134.3,615.5 1135.0,607.6 1135.7,618.1 1136.4,616.8 1137.1,618.8 1137.7,610.6 1138.4,599.3 1139.1,610.6 1139.8,610.0 1140.5,605.9 1141.2,602.5 1141.9,599.8 1142.5,587.8 1143.2,600.9 1143.9,605.9 1144.6,582.7 1145.3,596.6 1146.0,589.2 1146.7,594.1 1147.3,604.2 1148.0,587.3 1148.7,589.2 1149.4,587.8 1150.1,596.1 1150.8,579.2 1151.5,594.1 1152.1,579.7 1152.8,592.1 1153.5,597.2 1154.2,580.5 1154.9,579.2 1155.6,583.6 1156.3,590.1 1156.9,579.7 1157.6,580.5 1158.3,578.8 1159.0,584.5 1159.7,589.7 1160.4,599.3 1161.1,579.2 1161.7,597.2 1162.4,589.7 1163.1,585.0 1163.8,582.7 1164.5,585.9 1165.2,578.8 1165.9,580.1 1166.5,575.9 1167.2,577.1 1167.9,579.7 1168.6,581.8 1169.3,587.3 1170.0,573.4 1170.7,589.7 1171.3,578.8 1172.0,564.6 1172.7,571.0 1173.4,571.0 1174.1,587.8 1174.8,588.2 1175.5,568.7 1176.1,583.2 1176.8,573.0 1177.5,589.2 1178.2,587.3 1178.9,582.3 1179.6,580.5 1180.3,577.5 1180.9,576.3 1181.6,588.2 1182.3,578.8 1183.0,576.7 1183.7,579.7 1184.4,571.4 1185.1,576.7 1185.7,581.0 1186.4,572.6 1187.1,571.0 1187.8,564.9 1188.5,584.1 1189.2,591.6 1189.9,572.6 1190.5,586.4 1191.2,575.0 1191.9,571.4 1192.6,574.6 1193.3,580.5 1194.0,574.2 1194.7,571.8 1195.3,572.2 1196.0,577.1 1196.7,590.1 1197.4,567.9 1198.1,577.5 1198.8,576.7 1199.5,570.6 1200.1,587.3 1200.8,577.5 1201.5,571.8 1202.2,585.0 1202.9,573.0 1203.6,573.4 1204.3,588.7 1204.9,583.6 1205.6,574.6 1206.3,572.6 1207.0,579.2 1207.7,568.7 1208.4,576.3 1209.1,574.2 1209.7,587.3 1210.4,573.4 1211.1,579.2 1211.8,585.4 1212.5,570.6 1213.2,582.3 1213.9,572.6 1214.5,567.9 1215.2,572.6 1215.9,575.9 1216.6,569.8 1217.3,580.1 1218.0,584.1 1218.7,564.2 1219.3,569.1 1220.0,577.5 1220.7,573.4 1221.4,582.3 1222.1,587.8 1222.8,577.1 1223.5,566.1 1224.1,568.3 1224.8,583.6 1225.5,581.8 1226.2,593.6 1226.9,572.6 1227.6,588.7 1228.3,587.8 1228.9,580.1 1229.6,584.1 1230.3,585.4 1231.0,588.7 1231.7,601.4 1232.4,584.1 1233.1,574.2 1233.7,586.4 1234.4,574.6 1235.1,568.3 1235.8,575.0 1236.5,588.7 1237.2,597.2 1237.9,587.8 1238.5,579.7 1239.2,574.2 1239.9,577.9 1240.6,573.0 1241.3,573.4 1242.0,577.9 1242.7,600.9 1243.3,585.4 1244.0,591.6 1244.7,581.4 1245.4,584.1 1246.1,557.2 1246.8,588.2 1247.5,585.0 1248.2,579.2 1248.8,584.5 1249.5,577.1 1250.2,576.3 1250.9,573.0 1251.6,573.0 1252.3,575.4 1253.0,577.5 1253.6,570.6 1254.3,573.0 1255.0,560.6 1255.7,579.7 1256.4,566.8 1257.1,559.6 1257.8,565.7 1258.4,563.1 1259.1,571.0 1259.8,561.3 1260.5,536.6 1261.2,564.6 1261.9,545.1 1262.6,555.8 1263.2,561.0 1263.9,554.8 1264.6,559.6 1265.3,549.4 1266.0,554.2 1266.7,543.4 1267.4,551.0 1268.0,535.8 1268.7,551.6 1269.4,549.7 1270.1,546.3 1270.8,539.9 1271.5,547.6 1272.2,539.7 1272.8,549.1 1273.5,548.2 1274.2,546.9 1274.9,541.4 1275.6,562.0 1276.3,553.2 1277.0,540.8 1277.6,554.2 1278.3,551.6 1279.0,546.9 1279.7,546.0 1280.4,554.5 1281.1,544.6 1281.8,544.9 1282.4,561.0 1283.1,563.8 1283.8,562.8 1284.5,555.5 1285.2,546.0 1285.9,554.8 1286.6,563.8 1287.2,554.5 1287.9,549.7 1288.6,572.6 1289.3,577.5 1290.0,555.2 1290.7,558.2 1291.4,572.6 1292.0,542.2 1292.7,556.5 1293.4,558.5 1294.1,558.5 1294.8,554.5 1295.5,557.2 1296.2,546.6 1296.8,544.3 1297.5,552.9 1298.2,556.5 1298.9,558.5 1299.6,559.2 1300.3,552.9 1301.0,545.7 1301.6,561.0 1302.3,541.4 1303.0,526.1 1303.7,537.5 1304.4,541.1 1305.1,540.5 1305.8,547.9 1306.4,540.8 1307.1,535.8 1307.8,540.2 1308.5,544.6 1309.2,547.6 1309.9,536.6 1310.6,551.0 1311.2,545.4 1311.9,535.6 1312.6,539.4 1313.3,538.3 1314.0,551.0 1314.7,546.9 1315.4,545.1 1316.0,539.1 1316.7,538.3 1317.4,533.7 1318.1,534.5 1318.8,544.0 1319.5,541.4 1320.2,534.5 1320.8,535.6 1321.5,539.7 1322.2,539.1 1322.9,531.1 1323.6,530.9 1324.3,540.8 1325.0,527.9 1325.6,534.2 1326.3,531.1 1327.0,531.1 1327.7,545.4 1328.4,534.8 1329.1,531.1 1329.8,536.4 1330.4,532.9 1331.1,523.5 1331.8,526.4 1332.5,526.6 1333.2,521.0 1333.9,526.9 1334.6,518.0 1335.2,518.7 1335.9,526.4 1336.6,518.3 1337.3,518.7 1338.0,527.1 1338.7,515.4 1339.4,524.0 1340.0,511.2 1340.7,513.7 1341.4,520.1 1342.1,519.4 1342.8,524.9 1343.5,523.8 1344.2,516.5 1344.8,509.0 1345.5,512.0 1346.2,514.1 1346.9,519.8 1347.6,517.4 1348.3,515.6 1349.0,516.3 1349.6,500.3 1350.3,505.4 1351.0,511.4 1351.7,510.6 1352.4,504.8 1353.1,502.7 1353.8,499.2 1354.4,495.0 1355.1,498.0 1355.8,493.5 1356.5,491.9 1357.2,491.3 1357.9,485.5 1358.6,485.6 1359.2,483.6 1359.9,482.0 1360.6,472.5 1361.3,473.6 1362.0,475.8 1362.7,467.4 1363.4,460.5 1364.1,464.1 1364.7,451.7 1365.4,450.9 1366.1,444.3 1366.8,451.7 1367.5,437.8 1368.2,440.2 1368.9,433.2 1369.5,424.7 1370.2,416.9 1370.9,415.4 1371.6,404.8 1372.3,399.4 1373.0,392.3 1373.7,381.6 1374.3,375.1 1375.0,361.2 1375.7,359.3 1376.4,347.3 1377.1,339.1 1377.8,327.6 1378.5,316.8 1379.1,310.5 1379.8,300.0 1380.5,296.0 1381.2,276.0 1381.9,264.0 1382.6,251.7 1383.3,250.4 1383.9,254.0 1384.6,250.8 1385.3,250.3 1386.0,257.0 1386.7,263.4 1387.4,273.1 1388.1,283.8 1388.7,289.5 1389.4,291.3 1390.1,302.2 1390.8,305.0 1391.5,302.6 1392.2,308.7 1392.9,317.3 1393.5,315.6 1394.2,321.6 1394.9,322.1 1395.6,324.2 1396.3,319.8 1397.0,325.5 1397.7,332.1 1398.3,331.6 1399.0,326.4 1399.7,332.4 1400.4,333.5 1401.1,332.2 1401.8,337.1 1402.5,336.8 1403.1,336.5 1403.8,342.1 1404.5,341.3 1405.2,342.7 1405.9,344.2 1406.6,342.9 1407.3,342.4 1407.9,343.7 1408.6,346.2 1409.3,346.3 1410.0,345.1 1410.7,349.6 1411.4,347.2 1412.1,345.5 1412.7,344.4 1413.4,346.7 1414.1,349.9 1414.8,345.6 1415.5,346.9 1416.2,348.1 1416.9,346.4 1417.5,348.5 1418.2,350.0 1418.9,347.3 1419.6,349.0 1420.3,350.3 1421.0,352.7 1421.7,347.1 1422.3,349.2 1423.0,349.0 1423.7,350.2 1424.4,347.9 1425.1,350.9 1425.8,350.3 1426.5,354.8 1427.1,355.6 1427.8,351.9 1428.5,350.0 1429.2,348.5 1429.9,347.8 1430.6,348.0 1431.3,354.3 1431.9,346.6 1432.6,348.6 1433.3,350.9 1434.0,348.9 1434.7,349.5 1435.4,349.1 1436.1,348.0 1436.7,345.5 1437.4,347.8 1438.1,344.4 1438.8,344.0 1439.5,345.9 1440.2,344.8 1440.9,338.9 1441.5,340.4 1442.2,340.3 1442.9,341.1 1443.6,337.9 1444.3,345.7 1445.0,338.5 1445.7,335.1 1446.3,333.0 1447.0,333.9 1447.7,336.5 1448.4,335.4 1449.1,332.5 1449.8,331.5 1450.5,335.2 1451.1,329.6 1451.8,329.1 1452.5,325.6 1453.2,327.9 1453.9,329.8 1454.6,323.2 1455.3,324.1 1455.9,321.2 1456.6,321.3 1457.3,320.2 1458.0,315.2 1458.7,317.2 1459.4,315.8 1460.1,313.5 1460.7,310.5 1461.4,308.4 1462.1,307.4 1462.8,307.6 1463.5,307.1 1464.2,302.5 1464.9,303.3 1465.5,302.0 1466.2,294.2 1466.9,297.9 1467.6,293.2 1468.3,290.9 1469.0,287.8 1469.7,286.8 1470.3,282.3 1471.0,277.6 1471.7,278.0 1472.4,273.9 1473.1,274.0 1475.3,280.0 1476.5,300.0 1477.7,326.0 1478.6,361.0 1480.0,450.0 1481.5,560.0 1482.5,680.0 1483.4,800.0 1484.5,900.0 1485.6,1001.0 1486.6,1077.5 1488.0,1077.5 1490.0,1077.5 1492.0,1077.5 1493.5,1400.0"/>
<polyline stroke="#008000" points="277.7,1077.4 278.4,1400.0 279.1,1400.0 279.8,1013.2 280.5,1077.4 281.2,1013.2 281.9,1013.2 282.5,1013.2 283.2,1077.4 283.9,1077.4 284.6,1013.2 285.3,1077.4 286.0,1013.2 286.7,1077.4 287.3,1013.2 288.0,1077.4 288.7,975.6 289.4,1013.2 290.1,1400.0 290.8,1400.0 291.5,1077.4 292.1,1400.0 292.8,1077.4 293.5,1400.0 294.2,975.6 294.9,1077.4 295.6,948.9 296.3,928.2 296.9,1013.2 297.6,975.6 298.3,1013.2 299.0,1013.2 299.7,1077.4 300.4,1013.2 301.1,1077.4 301.7,1077.4 302.4,1013.2 303.1,975.6 303.8,1077.4 304.5,1400.0 305.2,911.3 305.9,975.6 306.5,948.9 307.2,1013.2 307.9,1077.4 308.6,1077.4 309.3,1077.4 310.0,1400.0 310.7,1013.2 311.3,1077.4 312.0,975.6 312.7,1013.2 313.4,975.6 314.1,1013.2 314.8,1013.2 315.5,1077.4 316.1,1077.4 316.8,1013.2 317.5,1013.2 318.2,1400.0 318.9,1013.2 319.6,1077.4 320.3,1013.2 320.9,975.6 321.6,1013.2 322.3,975.6 323.0,1077.4 323.7,1077.4 324.4,1013.2 325.1,1013.2 325.7,1077.4 326.4,948.9 327.1,1077.4 327.8,1077.4 328.5,1077.4 329.2,1077.4 329.9,948.9 330.5,1400.0 331.2,1013.2 331.9,1013.2 332.6,948.9 333.3,1077.4 334.0,975.6 334.7,1013.2 335.4,1013.2 336.0,1077.4 336.7,1013.2 337.4,1013.2 338.1,1077.4 338.8,1013.2 339.5,1400.0 340.2,948.9 340.8,1400.0 341.5,1013.2 342.2,928.2 342.9,1013.2 343.6,884.7 344.3,975.6 345.0,975.6 345.6,975.6 346.3,975.6 347.0,1077.4 347.7,975.6 348.4,1013.2 349.1,1077.4 349.8,1077.4 350.4,948.9 351.1,948.9 351.8,948.9 352.5,1013.2 353.2,1400.0 353.9,948.9 354.6,1013.2 355.2,1400.0 355.9,928.2 356.6,928.2 357.3,1400.0 358.0,897.1 358.7,975.6 359.4,1013.2 360.0,1013.2 360.7,1013.2 361.4,948.9 362.1,975.6 362.8,928.2 363.5,1400.0 364.2,975.6 364.8,1077.4 365.5,975.6 366.2,948.9 366.9,975.6 367.6,948.9 368.3,1077.4 369.0,1013.2 369.6,1400.0 370.3,1077.4 371.0,928.2 371.7,928.2 372.4,948.9 373.1,928.2 373.8,975.6 374.4,1400.0 375.1,975.6 375.8,948.9 376.5,911.3 377.2,975.6 377.9,975.6 378.6,1400.0 379.2,1013.2 379.9,975.6 380.6,948.9 381.3,864.0 382.0,1077.4 382.7,1077.4 383.4,948.9 384.0,928.2 384.7,975.6 385.4,1013.2 386.1,948.9 386.8,1077.4 387.5,1400.0 388.2,1013.2 388.8,1077.4 389.5,1077.4 390.2,948.9 390.9,1400.0 391.6,884.7 392.3,948.9 393.0,975.6 393.6,928.2 394.3,928.2 395.0,948.9 395.7,1013.2 396.4,975.6 397.1,911.3 397.8,928.2 398.4,1400.0 399.1,1077.4 399.8,928.2 400.5,975.6 401.2,1400.0 401.9,948.9 402.6,948.9 403.2,948.9 403.9,975.6 404.6,1013.2 405.3,975.6 406.0,975.6 406.7,948.9 407.4,975.6 408.0,975.6 408.7,897.1 409.4,948.9 410.1,975.6 410.8,832.8 411.5,1077.4 412.2,948.9 412.8,1013.2 413.5,1400.0 414.2,1077.4 414.9,975.6 415.6,975.6 416.3,897.1 417.0,1077.4 417.6,884.7 418.3,975.6 419.0,928.2 419.7,948.9 420.4,928.2 421.1,1400.0 421.8,911.3 422.4,884.7 423.1,1013.2 423.8,911.3 424.5,975.6 425.2,1013.2 425.9,1013.2 426.6,975.6 427.2,975.6 427.9,1013.2 428.6,928.2 429.3,1013.2 430.0,975.6 430.7,948.9 431.4,897.1 432.0,911.3 432.7,948.9 433.4,975.6 434.1,911.3 434.8,884.7 435.5,975.6 436.2,911.3 436.8,884.7 437.5,948.9 438.2,897.1 438.9,975.6 439.6,1400.0 440.3,928.2 441.0,975.6 441.6,975.6 442.3,948.9 443.0,928.2 443.7,897.1 444.4,928.2 445.1,884.7 445.8,911.3 446.4,897.1 447.1,948.9 447.8,928.2 448.5,1077.4 449.2,975.6 449.9,948.9 450.6,1013.2 451.3,928.2 451.9,911.3 452.6,1077.4 453.3,975.6 454.0,911.3 454.7,928.2 455.4,948.9 456.1,928.2 456.7,948.9 457.4,975.6 458.1,911.3 458.8,897.1 459.5,975.6 460.2,975.6 460.9,928.2 461.5,948.9 462.2,911.3 462.9,948.9 463.6,864.0 464.3,911.3 465.0,1077.4 465.7,897.1 466.3,839.7 467.0,928.2 467.7,855.2 468.4,897.1 469.1,1077.4 469.8,948.9 470.5,1013.2 471.1,948.9 471.8,928.2 472.5,911.3 473.2,884.7 473.9,948.9 474.6,948.9 475.3,975.6 475.9,1400.0 476.6,1013.2 477.3,911.3 478.0,928.2 478.7,948.9 479.4,855.2 480.1,928.2 480.7,975.6 481.4,897.1 482.1,948.9 482.8,948.9 483.5,975.6 484.2,948.9 484.9,1013.2 485.5,975.6 486.2,911.3 486.9,948.9 487.6,928.2 488.3,928.2 489.0,911.3 489.7,928.2 490.3,897.1 491.0,897.1 491.7,928.2 492.4,884.7 493.1,928.2 493.8,1077.4 494.5,948.9 495.1,1013.2 495.8,948.9 496.5,847.1 497.2,928.2 497.9,975.6 498.6,928.2 499.3,911.3 499.9,911.3 500.6,911.3 501.3,1013.2 502.0,855.2 502.7,911.3 503.4,928.2 504.1,911.3 504.7,975.6 505.4,975.6 506.1,975.6 506.8,873.8 507.5,873.8 508.2,928.2 508.9,873.8 509.5,897.1 510.2,928.2 510.9,928.2 511.6,975.6 512.3,1077.4 513.0,1013.2 513.7,911.3 514.3,897.1 515.0,975.6 515.7,1400.0 516.4,1013.2 517.1,897.1 517.8,1077.4 518.5,1013.2 519.1,911.3 519.8,975.6 520.5,928.2 521.2,928.2 521.9,911.3 522.6,948.9 523.3,975.6 523.9,948.9 524.6,975.6 525.3,948.9 526.0,911.3 526.7,884.7 527.4,897.1 528.1,1077.4 528.7,928.2 529.4,948.9 530.1,948.9 530.8,1077.4 531.5,975.6 532.2,1013.2 532.9,911.3 533.5,948.9 534.2,948.9 534.9,975.6 535.6,928.2 536.3,1077.4 537.0,911.3 537.7,897.1 538.3,975.6 539.0,884.7 539.7,975.6 540.4,948.9 541.1,948.9 541.8,928.2 542.5,975.6 543.1,911.3 543.8,948.9 544.5,884.7 545.2,1077.4 545.9,1077.4 546.6,1013.2 547.3,911.3 547.9,975.6 548.6,948.9 549.3,948.9 550.0,975.6 550.7,975.6 551.4,911.3 552.1,1400.0 552.7,975.6 553.4,897.1 554.1,928.2 554.8,873.8 555.5,948.9 556.2,1013.2 556.9,975.6 557.5,1013.2 558.2,884.7 558.9,1013.2 559.6,1013.2 560.3,1013.2 561.0,897.1 561.7,975.6 562.4,1400.0 563.0,975.6 563.7,928.2 564.4,948.9 565.1,975.6 565.8,911.3 566.5,911.3 567.2,911.3 567.8,1013.2 568.5,873.8 569.2,1077.4 569.9,911.3 570.6,975.6 571.3,911.3 572.0,1013.2 572.6,975.6 573.3,975.6 574.0,1013.2 574.7,1013.2 575.4,911.3 576.1,1013.2 576.8,1077.4 577.4,1013.2 578.1,928.2 578.8,975.6 579.5,975.6 580.2,1013.2 580.9,948.9 581.6,1013.2 582.2,884.7 582.9,1013.2 583.6,1077.4 584.3,884.7 585.0,855.2 585.7,948.9 586.4,1400.0 587.0,911.3 587.7,1013.2 588.4,1077.4 589.1,911.3 589.8,1077.4 590.5,928.2 591.2,948.9 591.8,948.9 592.5,1013.2 593.2,975.6 593.9,948.9 594.6,911.3 595.3,948.9 596.0,897.1 596.6,975.6 597.3,897.1 598.0,1013.2 598.7,1013.2 599.4,897.1 600.1,911.3 600.8,884.7 601.4,1013.2 602.1,948.9 602.8,1013.2 603.5,897.1 604.2,1013.2 604.9,911.3 605.6,873.8 606.2,911.3 606.9,975.6 607.6,975.6 608.3,884.7 609.0,1013.2 609.7,1013.2 610.4,897.1 611.0,911.3 611.7,948.9 612.4,928.2 613.1,1013.2 613.8,1077.4 614.5,928.2 615.2,1077.4 615.8,911.3 616.5,864.0 617.2,1013.2 617.9,948.9 618.6,1013.2 619.3,928.2 620.0,948.9 620.6,864.0 621.3,1013.2 622.0,1077.4 622.7,911.3 623.4,911.3 624.1,948.9 624.8,928.2 625.4,897.1 626.1,975.6 626.8,928.2 627.5,975.6 628.2,975.6 628.9,948.9 629.6,1013.2 630.2,948.9 630.9,884.7 631.6,897.1 632.3,948.9 633.0,897.1 633.7,928.2 634.4,948.9 635.0,1400.0 635.7,897.1 636.4,948.9 637.1,1077.4 637.8,948.9 638.5,948.9 639.2,911.3 639.8,975.6 640.5,975.6 641.2,1013.2 641.9,1013.2 642.6,975.6 643.3,1013.2 644.0,1077.4 644.6,1013.2 645.3,928.2 646.0,911.3 646.7,975.6 647.4,948.9 648.1,975.6 648.8,948.9 649.4,928.2 650.1,948.9 650.8,928.2 651.5,1077.4 652.2,975.6 652.9,1013.2 653.6,1400.0 654.2,911.3 654.9,911.3 655.6,884.7 656.3,911.3 657.0,928.2 657.7,975.6 658.4,928.2 659.0,897.1 659.7,1400.0 660.4,1013.2 661.1,1013.2 661.8,911.3 662.5,975.6 663.2,1013.2 663.8,911.3 664.5,911.3 665.2,911.3 665.9,884.7 666.6,948.9 667.3,911.3 668.0,975.6 668.6,1013.2 669.3,928.2 670.0,884.7 670.7,1013.2 671.4,928.2 672.1,1013.2 672.8,975.6 673.4,975.6 674.1,948.9 674.8,1077.4 675.5,911.3 676.2,928.2 676.9,928.2 677.6,948.9 678.3,975.6 678.9,1077.4 679.6,928.2 680.3,911.3 681.0,975.6 681.7,975.6 682.4,1013.2 683.1,975.6 683.7,948.9 684.4,1013.2 685.1,928.2 685.8,897.1 686.5,1077.4 687.2,928.2 687.9,1013.2 688.5,928.2 689.2,928.2 689.9,975.6 690.6,928.2 691.3,1013.2 692.0,975.6 692.7,948.9 693.3,911.3 694.0,1400.0 694.7,948.9 695.4,1013.2 696.1,948.9 696.8,1400.0 697.5,1400.0 698.1,1400.0 698.8,1077.4 699.5,1077.4 700.2,864.0 700.9,975.6 701.6,975.6 702.3,1077.4 702.9,948.9 703.6,948.9 704.3,1013.2 705.0,948.9 705.7,1013.2 706.4,1077.4 707.1,1077.4 707.7,897.1 708.4,928.2 709.1,928.2 709.8,975.6 710.5,948.9 711.2,975.6 711.9,928.2 712.5,1077.4 713.2,1400.0 713.9,873.8 714.6,948.9 715.3,948.9 716.0,975.6 716.7,948.9 717.3,928.2 718.0,1077.4 718.7,975.6 719.4,948.9 720.1,897.1 720.8,911.3 721.5,873.8 722.1,975.6 722.8,948.9 723.5,911.3 724.2,975.6 724.9,948.9 725.6,897.1 726.3,1400.0 726.9,897.1 727.6,948.9 728.3,975.6 729.0,1077.4 729.7,975.6 730.4,884.7 731.1,911.3 731.7,1013.2 732.4,1013.2 733.1,1013.2 733.8,1077.4 734.5,1077.4 735.2,948.9 735.9,975.6 736.5,975.6 737.2,911.3 737.9,928.2 738.6,1013.2 739.3,948.9 740.0,975.6 740.7,975.6 741.3,1013.2 742.0,928.2 742.7,975.6 743.4,873.8 744.1,1013.2 744.8,948.9 745.5,975.6 746.1,1013.2 746.8,948.9 747.5,975.6 748.2,928.2 748.9,1013.2 749.6,1077.4 750.3,1013.2 750.9,1400.0 751.6,884.7 752.3,1077.4 753.0,928.2 753.7,928.2 754.4,911.3 755.1,975.6 755.7,928.2 756.4,911.3 757.1,948.9 757.8,1013.2 758.5,928.2 759.2,928.2 759.9,928.2 760.5,948.9 761.2,928.2 761.9,1077.4 762.6,897.1 763.3,1013.2 764.0,975.6 764.7,873.8 765.3,1013.2 766.0,975.6 766.7,1077.4 767.4,975.6 768.1,948.9 768.8,928.2 769.5,975.6 770.1,948.9 770.8,884.7 771.5,1013.2 772.2,948.9 772.9,911.3 773.6,928.2 774.3,884.7 774.9,911.3 775.6,948.9 776.3,928.2 777.0,897.1 777.7,975.6 778.4,975.6 779.1,1077.4 779.7,873.8 780.4,928.2 781.1,911.3 781.8,928.2 782.5,911.3 783.2,884.7 783.9,911.3 784.5,975.6 785.2,975.6 785.9,928.2 786.6,975.6 787.3,948.9 788.0,948.9 788.7,948.9 789.3,948.9 790.0,975.6 790.7,948.9 791.4,1077.4 792.1,975.6 792.8,928.2 793.5,975.6 794.2,928.2 794.8,1013.2 795.5,897.1 796.2,911.3 796.9,911.3 797.6,928.2 798.3,897.1 799.0,911.3 799.6,911.3 800.3,975.6 801.0,928.2 801.7,948.9 802.4,928.2 803.1,897.1 803.8,826.4 804.4,864.0 805.1,873.8 805.8,928.2 806.5,928.2 807.2,948.9 807.9,884.7 808.6,839.7 809.2,975.6 809.9,897.1 810.6,928.2 811.3,948.9 812.0,873.8 812.7,948.9 813.4,839.7 814.0,948.9 814.7,1077.4 815.4,897.1 816.1,897.1 816.8,948.9 817.5,873.8 818.2,1077.4 818.8,948.9 819.5,897.1 820.2,948.9 820.9,873.8 821.6,884.7 822.3,911.3 823.0,948.9 823.6,975.6 824.3,873.8 825.0,948.9 825.7,911.3 826.4,911.3 827.1,897.1 827.8,975.6 828.4,855.2 829.1,1013.2 829.8,884.7 830.5,1013.2 831.2,873.8 831.9,884.7 832.6,948.9 833.2,855.2 833.9,928.2 834.6,928.2 835.3,873.8 836.0,911.3 836.7,911.3 837.4,1077.4 838.0,911.3 838.7,911.3 839.4,948.9 840.1,975.6 840.8,855.2 841.5,975.6 842.2,847.1 842.8,928.2 843.5,897.1 844.2,873.8 844.9,826.4 845.6,911.3 846.3,855.2 847.0,948.9 847.6,826.4 848.3,928.2 849.0,948.9 849.7,975.6 850.4,948.9 851.1,948.9 851.8,847.1 852.4,928.2 853.1,897.1 853.8,928.2 854.5,928.2 855.2,897.1 855.9,873.8 856.6,1400.0 857.2,855.2 857.9,873.8 858.6,928.2 859.3,911.3 860.0,948.9 860.7,948.9 861.4,928.2 862.0,897.1 862.7,897.1 863.4,975.6 864.1,948.9 864.8,948.9 865.5,884.7 866.2,855.2 866.8,928.2 867.5,948.9 868.2,873.8 868.9,911.3 869.6,948.9 870.3,1077.4 871.0,864.0 871.6,884.7 872.3,847.1 873.0,948.9 873.7,911.3 874.4,884.7 875.1,928.2 875.8,911.3 876.4,884.7 877.1,897.1 877.8,928.2 878.5,948.9 879.2,948.9 879.9,928.2 880.6,911.3 881.2,897.1 881.9,911.3 882.6,897.1 883.3,948.9 884.0,948.9 884.7,884.7 885.4,864.0 886.0,897.1 886.7,832.8 887.4,839.7 888.1,884.7 888.8,884.7 889.5,855.2 890.2,864.0 890.8,911.3 891.5,884.7 892.2,839.7 892.9,873.8 893.6,911.3 894.3,897.1 895.0,884.7 895.6,897.1 896.3,855.2 897.0,873.8 897.7,864.0 898.4,928.2 899.1,847.1 899.8,897.1 900.4,832.8 901.1,839.7 901.8,855.2 902.5,873.8 903.2,814.8 903.9,809.5 904.6,839.7 905.3,864.0 905.9,820.4 906.6,814.8 907.3,864.0 908.0,873.8 908.7,847.1 909.4,832.8 910.1,884.7 910.7,884.7 911.4,795.2 912.1,826.4 912.8,855.2 913.5,873.8 914.2,847.1 914.9,826.4 915.5,855.2 916.2,855.2 916.9,897.1 917.6,839.7 918.3,897.1 919.0,864.0 919.7,832.8 920.3,855.2 921.0,839.7 921.7,855.2 922.4,839.7 923.1,809.5 923.8,873.8 924.5,839.7 925.1,948.9 925.8,847.1 926.5,864.0 927.2,884.7 927.9,839.7 928.6,847.1 929.3,864.0 929.9,873.8 930.6,897.1 931.3,804.5 932.0,847.1 932.7,928.2 933.4,820.4 934.1,873.8 934.7,847.1 935.4,826.4 936.1,839.7 936.8,928.2 937.5,911.3 938.2,884.7 938.9,826.4 939.5,911.3 940.2,911.3 940.9,826.4 941.6,864.0 942.3,975.6 943.0,809.5 943.7,809.5 944.3,897.1 945.0,832.8 945.7,911.3 946.4,864.0 947.1,847.1 947.8,873.8 948.5,911.3 949.1,864.0 949.8,832.8 950.5,911.3 951.2,884.7 951.9,897.1 952.6,948.9 953.3,847.1 953.9,911.3 954.6,897.1 955.3,855.2 956.0,873.8 956.7,897.1 957.4,864.0 958.1,911.3 958.7,928.2 959.4,948.9 960.1,911.3 960.8,897.1 961.5,873.8 962.2,839.7 962.9,928.2 963.5,897.1 964.2,897.1 964.9,897.1 965.6,975.6 966.3,897.1 967.0,884.7 967.7,975.6 968.3,975.6 969.0,928.2 969.7,911.3 970.4,975.6 971.1,948.9 971.8,975.6 972.5,884.7 973.1,975.6 973.8,873.8 974.5,911.3 975.2,897.1 975.9,911.3 976.6,884.7 977.3,975.6 977.9,948.9 978.6,928.2 979.3,873.8 980.0,911.3 980.7,911.3 981.4,911.3 982.1,911.3 982.7,855.2 983.4,911.3 984.1,911.3 984.8,873.8 985.5,911.3 986.2,847.1 986.9,864.0 987.5,975.6 988.2,911.3 988.9,864.0 989.6,847.1 990.3,897.1 991.0,873.8 991.7,897.1 992.3,847.1 993.0,884.7 993.7,855.2 994.4,855.2 995.1,864.0 995.8,832.8 996.5,928.2 997.1,884.7 997.8,832.8 998.5,975.6 999.2,864.0 999.9,864.0 1000.6,873.8 1001.3,873.8 1001.9,820.4 1002.6,873.8 1003.3,897.1 1004.0,832.8 1004.7,864.0 1005.4,847.1 1006.1,826.4 1006.7,911.3 1007.4,804.5 1008.1,826.4 1008.8,873.8 1009.5,864.0 1010.2,847.1 1010.9,864.0 1011.5,839.7 1012.2,847.1 1012.9,873.8 1013.6,839.7 1014.3,897.1 1015.0,832.8 1015.7,884.7 1016.3,839.7 1017.0,820.4 1017.7,832.8 1018.4,832.8 1019.1,820.4 1019.8,826.4 1020.5,804.5 1021.2,911.3 1021.8,855.2 1022.5,855.2 1023.2,873.8 1023.9,847.1 1024.6,855.2 1025.3,864.0 1026.0,864.0 1026.6,928.2 1027.3,864.0 1028.0,847.1 1028.7,847.1 1029.4,839.7 1030.1,884.7 1030.8,873.8 1031.4,864.0 1032.1,826.4 1032.8,948.9 1033.5,873.8 1034.2,814.8 1034.9,897.1 1035.6,847.1 1036.2,832.8 1036.9,884.7 1037.6,847.1 1038.3,864.0 1039.0,855.2 1039.7,855.2 1040.4,873.8 1041.0,897.1 1041.7,873.8 1042.4,873.8 1043.1,847.1 1043.8,826.4 1044.5,911.3 1045.2,884.7 1045.8,839.7 1046.5,884.7 1047.2,873.8 1047.9,832.8 1048.6,839.7 1049.3,847.1 1050.0,826.4 1050.6,847.1 1051.3,864.0 1052.0,839.7 1052.7,911.3 1053.4,911.3 1054.1,928.2 1054.8,864.0 1055.4,1013.2 1056.1,884.7 1056.8,897.1 1057.5,873.8 1058.2,855.2 1058.9,839.7 1059.6,897.1 1060.2,911.3 1060.9,855.2 1061.6,884.7 1062.3,884.7 1063.0,928.2 1063.7,897.1 1064.4,864.0 1065.0,928.2 1065.7,864.0 1066.4,839.7 1067.1,873.8 1067.8,911.3 1068.5,873.8 1069.2,873.8 1069.8,864.0 1070.5,884.7 1071.2,864.0 1071.9,847.1 1072.6,1013.2 1073.3,826.4 1074.0,847.1 1074.6,855.2 1075.3,864.0 1076.0,839.7 1076.7,897.1 1077.4,832.8 1078.1,855.2 1078.8,855.2 1079.4,832.8 1080.1,826.4 1080.8,847.1 1081.5,832.8 1082.2,832.8 1082.9,864.0 1083.6,832.8 1084.2,873.8 1084.9,839.7 1085.6,820.4 1086.3,795.2 1087.0,847.1 1087.7,795.2 1088.4,864.0 1089.0,814.8 1089.7,832.8 1090.4,826.4 1091.1,855.2 1091.8,820.4 1092.5,820.4 1093.2,928.2 1093.8,826.4 1094.5,864.0 1095.2,820.4 1095.9,809.5 1096.6,839.7 1097.3,884.7 1098.0,826.4 1098.6,839.7 1099.3,795.2 1100.0,832.8 1100.7,855.2 1101.4,832.8 1102.1,839.7 1102.8,786.8 1103.4,847.1 1104.1,839.7 1104.8,809.5 1105.5,855.2 1106.2,795.2 1106.9,832.8 1107.6,809.5 1108.2,809.5 1108.9,847.1 1109.6,855.2 1110.3,897.1 1111.0,855.2 1111.7,820.4 1112.4,826.4 1113.0,799.8 1113.7,839.7 1114.4,847.1 1115.1,814.8 1115.8,855.2 1116.5,897.1 1117.2,884.7 1117.8,855.2 1118.5,832.8 1119.2,820.4 1119.9,897.1 1120.6,897.1 1121.3,855.2 1122.0,855.2 1122.6,839.7 1123.3,873.8 1124.0,855.2 1124.7,855.2 1125.4,884.7 1126.1,809.5 1126.8,847.1 1127.4,897.1 1128.1,847.1 1128.8,847.1 1129.5,820.4 1130.2,847.1 1130.9,884.7 1131.6,855.2 1132.2,855.2 1132.9,873.8 1133.6,839.7 1134.3,855.2 1135.0,884.7 1135.7,839.7 1136.4,855.2 1137.1,855.2 1137.7,864.0 1138.4,884.7 1139.1,884.7 1139.8,826.4 1140.5,832.8 1141.2,873.8 1141.9,873.8 1142.5,826.4 1143.2,826.4 1143.9,832.8 1144.6,814.8 1145.3,897.1 1146.0,847.1 1146.7,839.7 1147.3,839.7 1148.0,864.0 1148.7,855.2 1149.4,839.7 1150.1,864.0 1150.8,864.0 1151.5,873.8 1152.1,847.1 1152.8,839.7 1153.5,832.8 1154.2,790.9 1154.9,839.7 1155.6,826.4 1156.3,855.2 1156.9,814.8 1157.6,814.8 1158.3,832.8 1159.0,873.8 1159.7,820.4 1160.4,855.2 1161.1,832.8 1161.7,839.7 1162.4,826.4 1163.1,809.5 1163.8,855.2 1164.5,847.1 1165.2,832.8 1165.9,804.5 1166.5,832.8 1167.2,873.8 1167.9,855.2 1168.6,814.8 1169.3,855.2 1170.0,839.7 1170.7,799.8 1171.3,847.1 1172.0,809.5 1172.7,864.0 1173.4,799.8 1174.1,820.4 1174.8,855.2 1175.5,873.8 1176.1,884.7 1176.8,847.1 1177.5,820.4 1178.2,826.4 1178.9,826.4 1179.6,814.8 1180.3,820.4 1180.9,790.9 1181.6,814.8 1182.3,826.4 1183.0,832.8 1183.7,839.7 1184.4,864.0 1185.1,839.7 1185.7,832.8 1186.4,820.4 1187.1,839.7 1187.8,839.7 1188.5,814.8 1189.2,804.5 1189.9,782.9 1190.5,839.7 1191.2,814.8 1191.9,826.4 1192.6,839.7 1193.3,832.8 1194.0,799.8 1194.7,839.7 1195.3,820.4 1196.0,826.4 1196.7,795.2 1197.4,847.1 1198.1,809.5 1198.8,804.5 1199.5,839.7 1200.1,873.8 1200.8,809.5 1201.5,804.5 1202.2,820.4 1202.9,799.8 1203.6,832.8 1204.3,814.8 1204.9,820.4 1205.6,839.7 1206.3,832.8 1207.0,804.5 1207.7,809.5 1208.4,768.6 1209.1,809.5 1209.7,814.8 1210.4,873.8 1211.1,820.4 1211.8,839.7 1212.5,820.4 1213.2,771.9 1213.9,795.2 1214.5,804.5 1215.2,839.7 1215.9,832.8 1216.6,855.2 1217.3,799.8 1218.0,814.8 1218.7,832.8 1219.3,832.8 1220.0,826.4 1220.7,782.9 1221.4,809.5 1222.1,873.8 1222.8,847.1 1223.5,839.7 1224.1,832.8 1224.8,826.4 1225.5,795.2 1226.2,826.4 1226.9,795.2 1227.6,832.8 1228.3,826.4 1228.9,864.0 1229.6,873.8 1230.3,775.4 1231.0,847.1 1231.7,804.5 1232.4,799.8 1233.1,855.2 1233.7,855.2 1234.4,809.5 1235.1,799.8 1235.8,814.8 1236.5,820.4 1237.2,839.7 1237.9,782.9 1238.5,790.9 1239.2,814.8 1239.9,820.4 1240.6,775.4 1241.3,795.2 1242.0,855.2 1242.7,795.2 1243.3,790.9 1244.0,799.8 1244.7,799.8 1245.4,795.2 1246.1,839.7 1246.8,826.4 1247.5,804.5 1248.2,814.8 1248.8,795.2 1249.5,839.7 1250.2,804.5 1250.9,804.5 1251.6,795.2 1252.3,804.5 1253.0,864.0 1253.6,826.4 1254.3,820.4 1255.0,809.5 1255.7,790.9 1256.4,765.3 1257.1,839.7 1257.8,814.8 1258.4,832.8 1259.1,765.3 1259.8,795.2 1260.5,804.5 1261.2,814.8 1261.9,790.9 1262.6,799.8 1263.2,820.4 1263.9,814.8 1264.6,790.9 1265.3,864.0 1266.0,839.7 1266.7,839.7 1267.4,809.5 1268.0,832.8 1268.7,786.8 1269.4,820.4 1270.1,795.2 1270.8,809.5 1271.5,765.3 1272.2,804.5 1272.8,839.7 1273.5,795.2 1274.2,786.8 1274.9,847.1 1275.6,790.9 1276.3,814.8 1277.0,790.9 1277.6,809.5 1278.3,775.4 1279.0,799.8 1279.7,786.8 1280.4,832.8 1281.1,839.7 1281.8,820.4 1282.4,790.9 1283.1,809.5 1283.8,814.8 1284.5,809.5 1285.2,775.4 1285.9,790.9 1286.6,775.4 1287.2,790.9 1287.9,775.4 1288.6,809.5 1289.3,814.8 1290.0,814.8 1290.7,786.8 1291.4,820.4 1292.0,809.5 1292.7,820.4 1293.4,779.1 1294.1,790.9 1294.8,799.8 1295.5,786.8 1296.2,775.4 1296.8,804.5 1297.5,809.5 1298.2,839.7 1298.9,782.9 1299.6,768.6 1300.3,820.4 1301.0,779.1 1301.6,809.5 1302.3,765.3 1303.0,747.9 1303.7,775.4 1304.4,799.8 1305.1,809.5 1305.8,771.9 1306.4,779.1 1307.1,775.4 1307.8,799.8 1308.5,809.5 1309.2,799.8 1309.9,782.9 1310.6,820.4 1311.2,768.6 1311.9,814.8 1312.6,775.4 1313.3,804.5 1314.0,804.5 1314.7,809.5 1315.4,790.9 1316.0,814.8 1316.7,804.5 1317.4,809.5 1318.1,820.4 1318.8,786.8 1319.5,809.5 1320.2,782.9 1320.8,790.9 1321.5,795.2 1322.2,804.5 1322.9,786.8 1323.6,756.2 1324.3,782.9 1325.0,775.4 1325.6,782.9 1326.3,809.5 1327.0,809.5 1327.7,771.9 1328.4,799.8 1329.1,779.1 1329.8,790.9 1330.4,779.1 1331.1,786.8 1331.8,768.6 1332.5,790.9 1333.2,753.3 1333.9,799.8 1334.6,782.9 1335.2,756.2 1335.9,765.3 1336.6,750.6 1337.3,771.9 1338.0,795.2 1338.7,759.1 1339.4,753.3 1340.0,753.3 1340.7,768.6 1341.4,756.2 1342.1,779.1 1342.8,775.4 1343.5,745.3 1344.2,799.8 1344.8,775.4 1345.5,782.9 1346.2,771.9 1346.9,762.2 1347.6,740.3 1348.3,779.1 1349.0,779.1 1349.6,750.6 1350.3,750.6 1351.0,765.3 1351.7,765.3 1352.4,756.2 1353.1,775.4 1353.8,775.4 1354.4,745.3 1355.1,750.6 1355.8,768.6 1356.5,742.7 1357.2,753.3 1357.9,779.1 1358.6,737.9 1359.2,759.1 1359.9,742.7 1360.6,737.9 1361.3,750.6 1362.0,745.3 1362.7,726.7 1363.4,745.3 1364.1,771.9 1364.7,740.3 1365.4,737.9 1366.1,735.5 1366.8,726.7 1367.5,750.6 1368.2,737.9 1368.9,759.1 1369.5,735.5 1370.2,750.6 1370.9,750.6 1371.6,768.6 1372.3,759.1 1373.0,711.2 1373.7,713.0 1374.3,750.6 1375.0,750.6 1375.7,722.6 1376.4,713.0 1377.1,726.7 1377.8,716.7 1378.5,704.3 1379.1,694.9 1379.8,709.4 1380.5,694.9 1381.2,690.5 1381.9,686.3 1382.6,704.3 1383.3,713.0 1383.9,681.0 1384.6,689.1 1385.3,658.3 1386.0,682.3 1386.7,658.3 1387.4,657.3 1388.1,650.6 1388.7,663.5 1389.4,653.4 1390.1,650.6 1390.8,639.3 1391.5,622.8 1392.2,617.5 1392.9,607.0 1393.5,589.7 1394.2,580.1 1394.9,582.3 1395.6,556.5 1396.3,567.2 1397.0,555.8 1397.7,553.9 1398.3,551.6 1399.0,546.9 1399.7,548.5 1400.4,549.7 1401.1,544.9 1401.8,538.0 1402.5,558.2 1403.1,551.6 1403.8,544.3 1404.5,563.8 1405.2,562.8 1405.9,566.8 1406.6,577.9 1407.3,575.4 1407.9,583.2 1408.6,599.3 1409.3,600.9 1410.0,581.4 1410.7,602.0 1411.4,604.2 1412.1,622.1 1412.7,608.8 1413.4,597.7 1414.1,608.8 1414.8,608.8 1415.5,623.5 1416.2,622.8 1416.9,616.8 1417.5,624.2 1418.2,628.4 1418.9,621.4 1419.6,614.3 1420.3,626.3 1421.0,618.8 1421.7,612.4 1422.3,627.0 1423.0,632.9 1423.7,612.4 1424.4,604.2 1425.1,635.3 1425.8,622.1 1426.5,611.8 1427.1,623.5 1427.8,627.0 1428.5,625.6 1429.2,619.4 1429.9,622.8 1430.6,614.9 1431.3,616.8 1431.9,620.7 1432.6,628.4 1433.3,605.3 1434.0,619.4 1434.7,625.6 1435.4,625.6 1436.1,618.1 1436.7,624.2 1437.4,614.3 1438.1,614.3 1438.8,600.9 1439.5,616.2 1440.2,602.0 1440.9,602.5 1441.5,598.2 1442.2,613.0 1442.9,600.3 1443.6,595.1 1444.3,598.7 1445.0,590.6 1445.7,589.2 1446.3,594.1 1447.0,591.6 1447.7,604.2 1448.4,598.2 1449.1,590.6 1449.8,602.5 1450.5,603.6 1451.1,583.2 1451.8,600.9 1452.5,588.7 1453.2,582.7 1453.9,583.6 1454.6,576.7 1455.3,585.4 1455.9,592.1 1456.6,575.9 1457.3,577.5 1458.0,569.5 1458.7,561.7 1459.4,564.9 1460.1,556.5 1460.7,567.6 1461.4,552.2 1462.1,557.2 1462.8,549.1 1463.5,549.7 1464.2,546.6 1466.0,570.0 1467.0,640.0 1467.8,720.0 1468.5,800.0 1469.0,888.0"/>
<path stroke="#008000" d="M277 1077.5H393"/>
</g>
</svg>
<g font-family="'Liberation Sans', Arial, sans-serif" fill="#000">
<text x="275.0" y="1171" font-size="66" text-anchor="middle">0</text>
<text x="412.2" y="1171" font-size="66" text-anchor="middle">20</text>
<text x="549.3" y="1171" font-size="66" text-anchor="middle">40</text>
<text x="686.5" y="1171" font-size="66" text-anchor="middle">60</text>
<text x="823.6" y="1171" font-size="66" text-anchor="middle">80</text>
<text x="960.8" y="1171" font-size="66" text-anchor="middle">100</text>
<text x="1098.0" y="1171" font-size="66" text-anchor="middle">120</text>
<text x="1235.1" y="1171" font-size="66" text-anchor="middle">140</text>
<text x="1372.3" y="1171" font-size="66" text-anchor="middle">160</text>
<text x="1509.4" y="1171" font-size="66" text-anchor="middle">180</text>
<text x="100.5" y="1100.2" font-size="65">10<tspan font-size="42" dy="-25.6" dx="0.5">1</tspan></text>
<text x="100.5" y="886.8" font-size="65">10<tspan font-size="42" dy="-25.6" dx="0.5">2</tspan></text>
<text x="100.5" y="673.4" font-size="65">10<tspan font-size="42" dy="-25.6" dx="0.5">3</tspan></text>
<text x="100.5" y="460.0" font-size="65">10<tspan font-size="42" dy="-25.6" dx="0.5">4</tspan></text>
<text x="100.5" y="246.6" font-size="65">10<tspan font-size="42" dy="-25.6" dx="0.5">5</tspan></text>
<text x="980.3" y="1275.3" font-size="76.1" text-anchor="middle">energy / eV</text>
<text transform="translate(75.2,549.5) rotate(-90)" font-size="76.2" text-anchor="middle">signal / counts/s</text>
<text x="1137" y="171" font-size="70.5" fill="#0000ff">Ar<tspan font-size="45" dy="-29" dx="0.5">+</tspan></text>
<text x="1121" y="531.3" font-size="70.5" fill="#ff8000">ArH<tspan font-size="45" dy="-28.5" dx="-0.5">+</tspan></text>
<text x="1144" y="701.4" font-size="70.5" fill="#000">Ar<tspan font-size="48" dy="-27.6" dx="0.5">2</tspan><tspan font-size="45" dy="-1" dx="0">+</tspan></text>
<text x="1153" y="989" font-size="70.5" fill="#008000">Ar<tspan font-size="48" dy="20.4" dx="0.5">2</tspan><tspan font-size="45" dy="-49.5" dx="-0.5">+</tspan></text>
</g>
</svg>
</body></html>
